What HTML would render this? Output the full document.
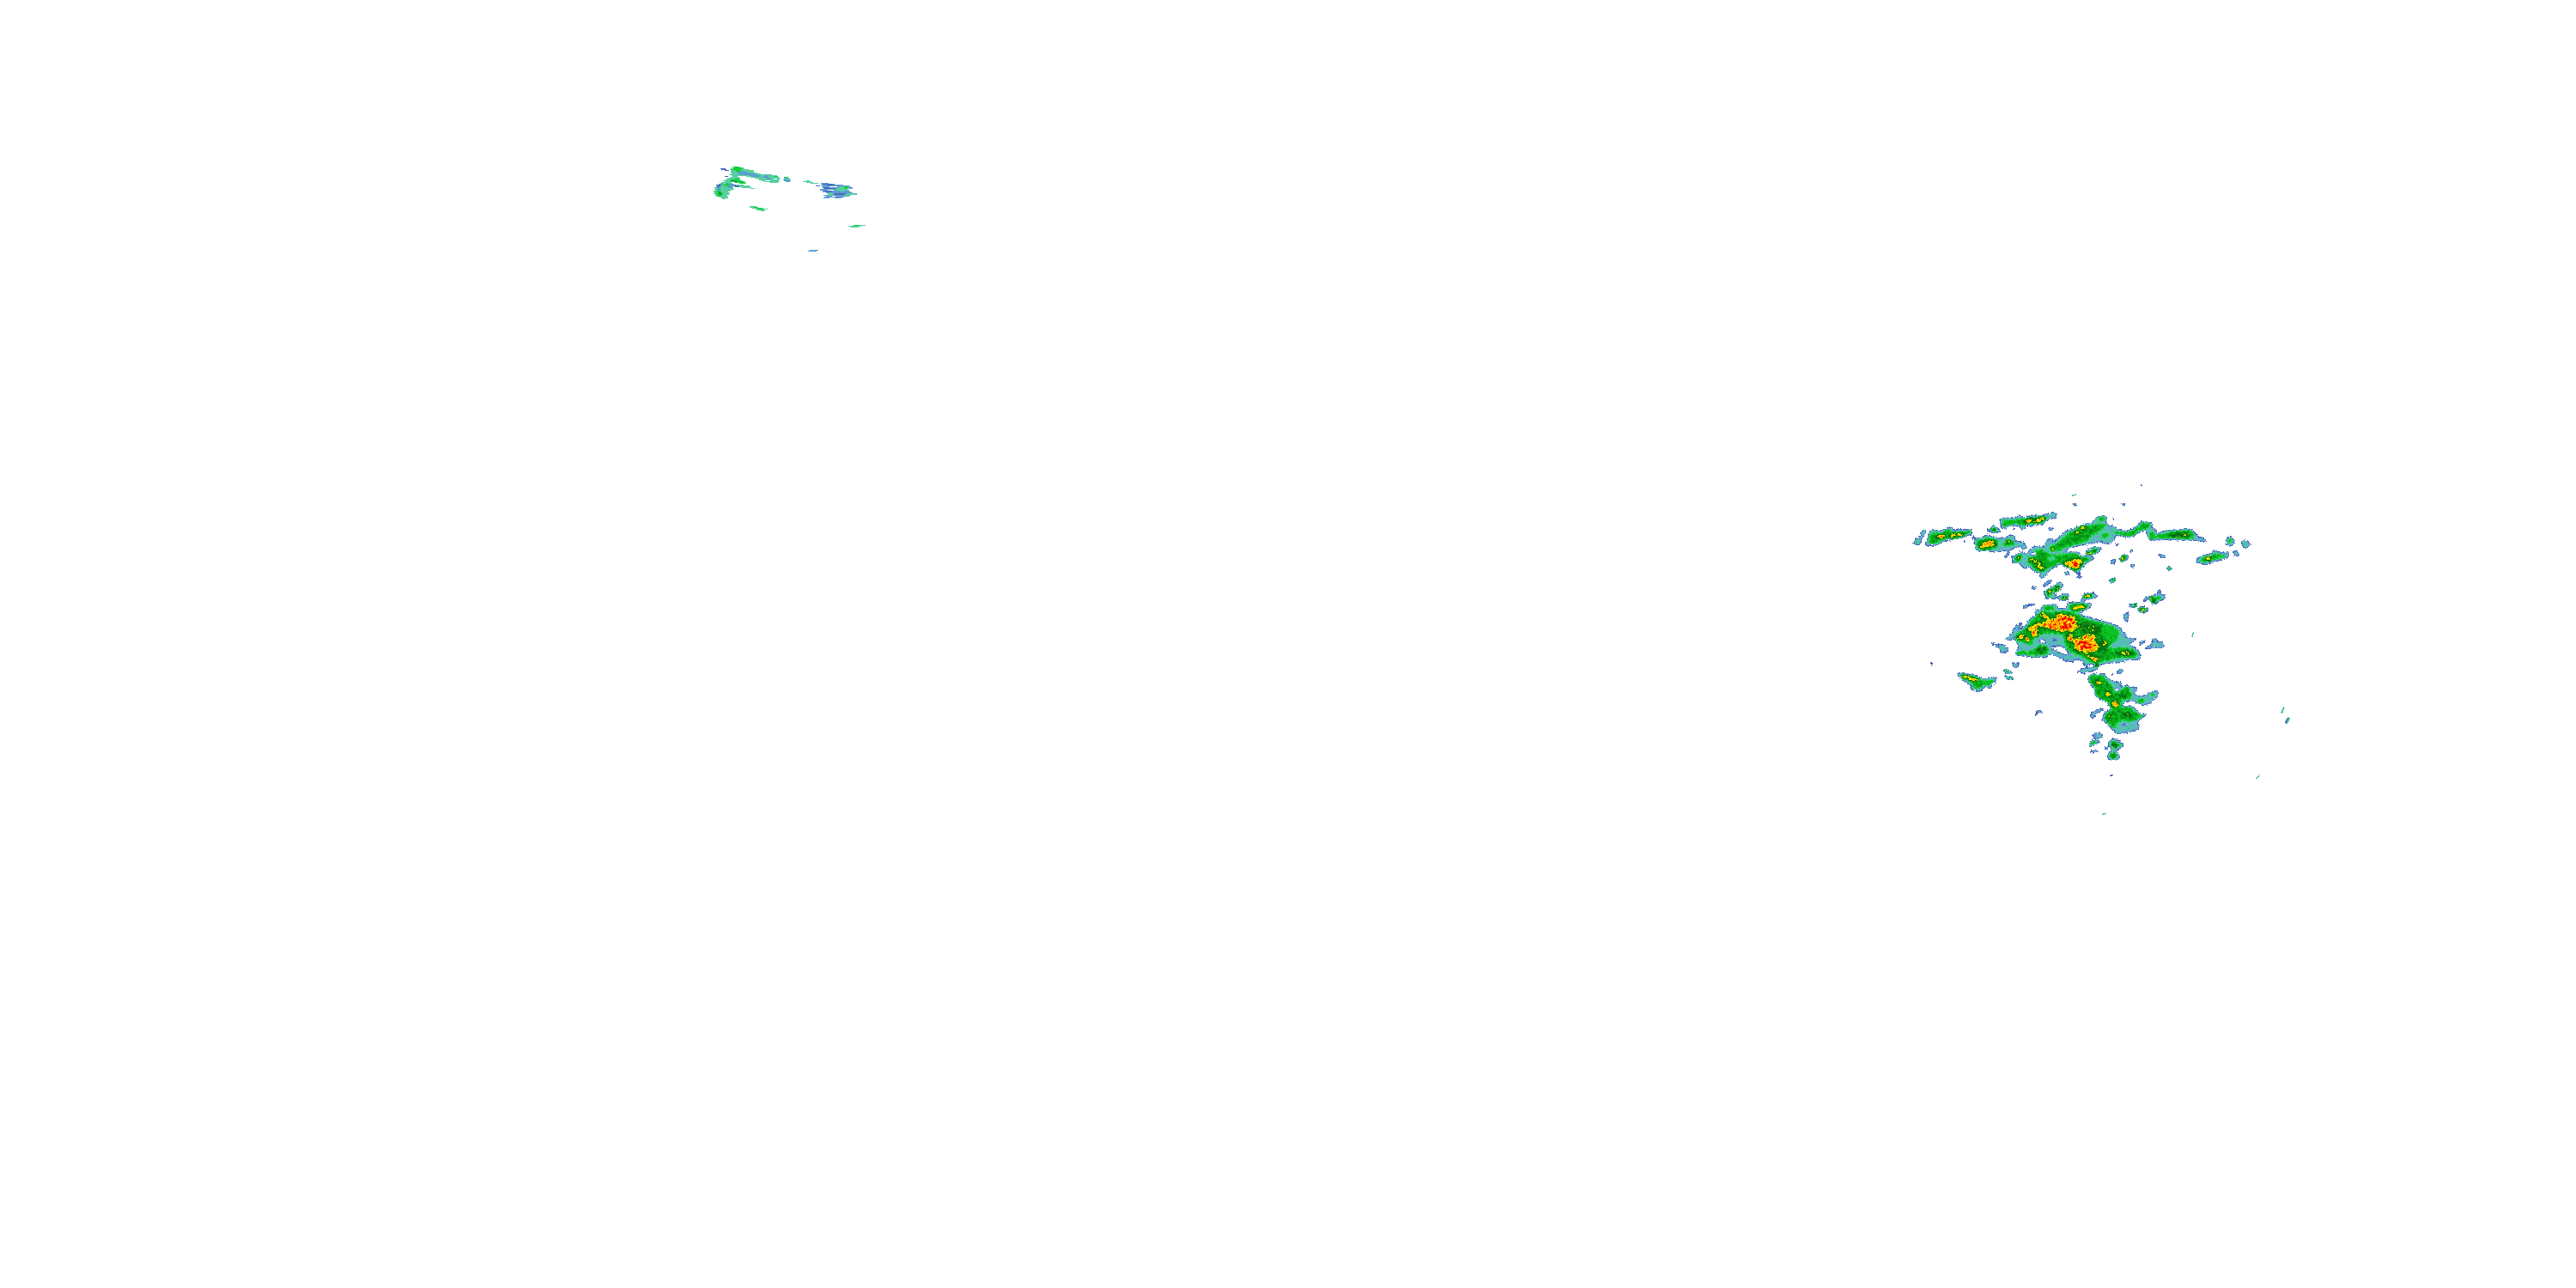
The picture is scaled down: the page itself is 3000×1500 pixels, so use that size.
<!DOCTYPE html>
<html lang="en">
<head>
<meta charset="utf-8">
<style>
html,body{margin:0;padding:0;background:#fff;width:3000px;height:1500px;overflow:hidden}
svg{display:block;position:absolute;left:0;top:0}
</style>
</head>
<body>
<svg width="3000" height="1500" viewBox="0 0 3000 1500">
<defs>
<filter id="radar" filterUnits="userSpaceOnUse" x="2160" y="520" width="580" height="500" color-interpolation-filters="sRGB">
  <feGaussianBlur in="SourceGraphic" stdDeviation="1.1" result="b0"/>
  <feTurbulence type="fractalNoise" baseFrequency="0.45" numOctaves="2" seed="21" result="dn"/>
  <feDisplacementMap in="b0" in2="dn" scale="3.5" xChannelSelector="R" yChannelSelector="G" result="b"/>
  <feTurbulence type="fractalNoise" baseFrequency="0.3" numOctaves="2" seed="7" result="n0"/>
  <feColorMatrix in="n0" type="matrix" values="1 0 0 0 0  1 0 0 0 0  1 0 0 0 0  0 0 0 0 1" result="n"/>
  <feComposite in="b" in2="n" operator="arithmetic" k1="0.7" k2="0.65" k3="0.04" k4="-0.02" result="m"/>
  <feComponentTransfer in="m">
    <feFuncR type="discrete" tableValues="1.000 1.000 1.000 1.000 1.000 1.000 1.000 1.000 1.000 1.000 1.000 1.000 1.000 1.000 1.000 1.000 1.000 1.000 1.000 0.259 0.259 0.259 0.259 0.259 0.259 0.259 0.259 0.259 0.259 0.333 0.333 0.333 0.333 0.333 0.333 0.400 0.400 0.400 0.400 0.400 0.400 0.400 0.400 0.400 0.361 0.361 0.361 0.361 0.361 0.361 0.282 0.282 0.282 0.282 0.282 0.282 0.282 0.282 0.282 0.282 0.282 0.282 0.133 0.133 0.133 0.133 0.133 0.133 0.047 0.047 0.047 0.047 0.047 0.047 0.047 0.047 0.047 0.047 0.047 0.047 0.047 0.047 0.047 0.047 0.039 0.039 0.039 0.039 0.039 0.039 0.039 0.039 0.039 0.039 0.039 0.039 0.031 0.031 0.031 0.031 0.031 0.031 0.031 0.031 0.031 0.031 0.031 0.031 0.024 0.024 0.024 0.024 0.024 0.024 0.024 0.024 0.024 0.024 0.024 0.024 0.020 0.020 0.020 0.020 0.020 0.020 0.020 0.020 0.020 0.020 0.020 0.020 0.020 0.020 0.020 0.020 0.020 0.020 0.784 0.784 0.784 0.784 0.784 0.784 0.784 0.784 1.000 1.000 1.000 1.000 1.000 1.000 1.000 1.000 1.000 1.000 1.000 1.000 1.000 1.000 1.000 1.000 1.000 1.000 1.000 1.000 1.000 1.000 1.000 1.000 1.000 1.000 1.000 1.000 1.000 1.000 1.000 1.000 1.000 1.000 1.000 1.000 1.000 1.000 1.000 1.000 1.000 1.000 1.000 1.000 0.941 0.941 0.941 0.941 0.941 0.941 0.941 0.941 0.941 0.941"/>
    <feFuncG type="discrete" tableValues="1.000 1.000 1.000 1.000 1.000 1.000 1.000 1.000 1.000 1.000 1.000 1.000 1.000 1.000 1.000 1.000 1.000 1.000 1.000 0.376 0.376 0.376 0.376 0.376 0.376 0.376 0.376 0.376 0.376 0.522 0.522 0.522 0.522 0.522 0.522 0.651 0.651 0.651 0.651 0.651 0.651 0.651 0.651 0.651 0.737 0.737 0.737 0.737 0.737 0.737 0.800 0.800 0.800 0.800 0.800 0.800 0.800 0.800 0.800 0.800 0.800 0.800 0.800 0.800 0.800 0.800 0.800 0.800 0.769 0.769 0.769 0.769 0.769 0.769 0.769 0.769 0.769 0.769 0.769 0.769 0.769 0.769 0.769 0.769 0.690 0.690 0.690 0.690 0.690 0.690 0.690 0.690 0.690 0.690 0.690 0.690 0.596 0.596 0.596 0.596 0.596 0.596 0.596 0.596 0.596 0.596 0.596 0.596 0.502 0.502 0.502 0.502 0.502 0.502 0.502 0.502 0.502 0.502 0.502 0.502 0.424 0.424 0.424 0.424 0.424 0.424 0.424 0.424 0.424 0.424 0.424 0.424 0.424 0.424 0.424 0.424 0.424 0.424 0.784 0.784 0.784 0.784 0.784 0.784 0.784 0.784 0.886 0.886 0.886 0.886 0.886 0.886 0.886 0.886 0.886 0.886 0.886 0.886 0.886 0.886 0.886 0.886 0.886 0.886 0.753 0.753 0.753 0.753 0.753 0.753 0.753 0.753 0.596 0.596 0.596 0.596 0.596 0.596 0.596 0.596 0.596 0.596 0.596 0.596 0.314 0.314 0.314 0.314 0.314 0.314 0.031 0.031 0.031 0.031 0.031 0.031 0.031 0.031 0.031 0.031"/>
    <feFuncB type="discrete" tableValues="1.000 1.000 1.000 1.000 1.000 1.000 1.000 1.000 1.000 1.000 1.000 1.000 1.000 1.000 1.000 1.000 1.000 1.000 1.000 0.698 0.698 0.698 0.698 0.698 0.698 0.698 0.698 0.698 0.698 0.776 0.776 0.776 0.776 0.776 0.776 0.839 0.839 0.839 0.839 0.839 0.839 0.839 0.839 0.839 0.753 0.753 0.753 0.753 0.753 0.753 0.588 0.588 0.588 0.588 0.588 0.588 0.588 0.588 0.588 0.588 0.588 0.588 0.314 0.314 0.314 0.314 0.314 0.314 0.125 0.125 0.125 0.125 0.125 0.125 0.125 0.125 0.125 0.125 0.125 0.125 0.125 0.125 0.125 0.125 0.110 0.110 0.110 0.110 0.110 0.110 0.110 0.110 0.110 0.110 0.110 0.110 0.094 0.094 0.094 0.094 0.094 0.094 0.094 0.094 0.094 0.094 0.094 0.094 0.078 0.078 0.078 0.078 0.078 0.078 0.078 0.078 0.078 0.078 0.078 0.078 0.063 0.063 0.063 0.063 0.063 0.063 0.063 0.063 0.063 0.063 0.063 0.063 0.063 0.063 0.063 0.063 0.063 0.063 0.000 0.000 0.000 0.000 0.000 0.000 0.000 0.000 0.000 0.000 0.000 0.000 0.000 0.000 0.000 0.000 0.000 0.000 0.000 0.000 0.000 0.000 0.000 0.000 0.000 0.000 0.000 0.000 0.000 0.000 0.000 0.000 0.000 0.000 0.000 0.000 0.000 0.000 0.000 0.000 0.000 0.000 0.000 0.000 0.000 0.000 0.000 0.000 0.000 0.000 0.000 0.000 0.000 0.000 0.000 0.000 0.000 0.000 0.000 0.000 0.000 0.000"/>
  </feComponentTransfer>
</filter>
<filter id="ft" filterUnits="userSpaceOnUse" x="800" y="170" width="240" height="140" color-interpolation-filters="sRGB">
  <feTurbulence type="fractalNoise" baseFrequency="0.012 0.7" numOctaves="2" seed="5" result="n0"/>
  <feColorMatrix in="n0" type="matrix" values="1 0 0 0 0  0 0 0 0 0.5  0 0 0 0 0.5  0 0 0 0 1" result="n"/>
  <feDisplacementMap in="SourceGraphic" in2="n" scale="8" xChannelSelector="R" yChannelSelector="G"/>
</filter>
</defs>
<rect width="3000" height="1500" fill="#fff"/>
<clipPath id="cp"><rect x="2170" y="530" width="560" height="480"/></clipPath>
<g clip-path="url(#cp)">
<g filter="url(#radar)">
<rect x="2150" y="510" width="600" height="520" fill="#000"/>
<g fill="#242424" stroke="#242424" stroke-width="1.0" stroke-linejoin="round">
<polygon points="2343.1,616.5 2347.5,615.4 2347.2,617.2 2343.8,617.8"/>
<polygon points="2353.1,615.0 2358.8,613.5 2358.5,616.5 2353.8,617.0"/>
<polygon points="2334.4,649.4 2336.9,645.0 2338.1,641.9 2340.0,642.5 2339.4,646.2 2336.2,650.0"/>
<polygon points="2480.6,658.1 2483.1,656.9 2486.2,659.4 2484.4,660.9 2481.5,660.2"/>
<polygon points="2513.1,646.0 2516.9,645.2 2522.2,647.5 2521.9,649.8 2517.5,649.0 2514.4,647.8"/>
<polygon points="2480.0,640.6 2482.5,640.0 2483.8,642.5 2481.5,643.2"/>
<polygon points="2404.4,666.2 2409.4,665.6 2410.0,669.0 2405.6,670.0"/>
<polygon points="2418.8,671.2 2424.4,670.6 2425.0,672.8 2420.0,673.2"/>
<polygon points="2378.1,680.6 2383.1,679.4 2385.0,676.2 2390.0,675.6 2388.8,678.1 2385.0,680.0 2382.5,682.5 2378.8,682.8"/>
<polygon points="2366.2,682.8 2368.8,681.9 2371.2,685.6 2369.4,686.9 2366.9,685.0"/>
<polygon points="2475.0,715.0 2478.8,712.5 2478.1,717.5 2478.8,721.2 2476.2,725.0 2474.4,721.2 2473.1,718.8"/>
<polygon points="2355.0,706.9 2358.1,704.4 2363.8,704.0 2370.6,703.1 2370.0,704.8 2364.4,705.6 2361.2,706.2 2360.0,709.4 2357.5,707.5"/>
<polygon points="2336.2,743.8 2340.0,740.0 2342.5,737.5 2346.2,731.2 2347.5,728.1 2351.2,726.9 2353.8,724.4 2355.0,726.2 2351.2,731.2 2348.8,736.2 2346.2,741.2 2342.5,745.0 2338.8,746.2"/>
<polygon points="2317.2,748.1 2320.0,747.5 2323.8,750.0 2327.5,751.2 2333.1,750.0 2335.0,753.8 2339.4,754.4 2338.8,757.5 2335.0,760.6 2331.2,760.0 2328.8,756.2 2326.2,753.1 2321.2,750.6"/>
<polygon points="2248.1,771.2 2249.8,771.0 2251.9,774.4 2250.2,774.8"/>
<polygon points="2342.5,772.2 2351.9,772.2 2350.0,776.9 2345.6,777.5"/>
<polygon points="2370.6,827.8 2376.9,827.2 2378.1,829.4 2372.5,830.0"/>
<polygon points="2369.4,831.2 2373.8,831.5 2373.5,832.5 2369.8,832.5"/>
<polygon points="2422.5,780.0 2427.5,778.1 2435.0,777.5 2441.9,775.6 2442.5,780.0 2435.0,781.9 2428.8,783.1 2425.0,785.0 2422.5,783.1"/>
<polygon points="2418.1,782.2 2421.2,781.9 2421.0,783.8 2418.5,783.8"/>
<polygon points="2465.0,782.5 2467.5,780.0 2471.9,779.0 2472.5,781.2 2470.0,784.4 2465.6,784.8"/>
<polygon points="2457.5,786.2 2460.6,783.8 2461.5,784.8 2458.5,787.0"/>
<polygon points="2490.6,750.0 2493.8,746.9 2499.4,745.0 2497.5,748.1 2493.1,750.6"/>
<polygon points="2498.1,755.0 2502.5,751.9 2506.2,750.0 2506.9,743.8 2509.4,742.5 2511.2,746.2 2515.0,747.2 2519.8,748.1 2520.0,753.8 2515.0,754.8 2508.8,753.8 2503.8,755.0 2500.0,756.0"/>
<polygon points="2434.4,833.8 2436.9,828.8 2441.2,827.5 2447.5,825.0 2450.6,825.6 2445.0,829.4 2441.2,830.6 2438.8,835.0 2435.6,836.9"/>
<polygon points="2436.2,859.4 2441.2,856.9 2445.0,856.2 2448.8,858.8 2446.2,860.6 2440.0,860.0"/>
<polygon points="2610.0,631.2 2612.5,628.5 2617.5,629.4 2620.6,635.0 2617.5,637.5 2613.8,638.5 2611.2,635.6"/>
<polygon points="2600.0,642.2 2605.0,641.9 2608.1,646.2 2605.6,648.1 2601.9,646.2"/>
<polygon points="2470.6,586.5 2473.8,586.0 2475.6,587.8 2473.1,588.8 2471.0,588.1"/>
<polygon points="2492.5,564.4 2493.5,564.1 2495.0,566.5 2494.0,566.9"/>
<polygon points="2513.1,646.0 2516.9,645.6 2521.9,648.1 2521.2,649.8 2516.9,649.0 2514.0,647.5"/>
<polygon points="2480.6,640.6 2482.5,640.0 2483.8,643.1 2481.9,643.8"/>
<polygon points="2457.5,654.0 2459.8,654.4 2460.6,656.5 2458.5,656.9"/>
<polygon points="2481.2,658.1 2483.8,657.2 2485.8,660.0 2482.8,660.8"/>
<polygon points="2436.2,856.2 2441.2,853.5 2445.0,853.1 2448.8,855.6 2448.1,857.8 2442.5,856.9"/>
<polygon points="2433.8,875.6 2438.1,874.0 2443.1,874.8 2442.2,876.2 2435.0,876.9"/>
<polygon points="2450.0,871.0 2455.0,870.0 2455.6,871.5 2451.2,872.8"/>
<polygon points="2456.9,903.1 2460.0,901.9 2461.9,902.5 2458.1,904.0"/>
<polygon points="2414.0,586.9 2416.2,586.0 2418.8,587.0 2416.9,588.8 2414.5,588.2"/>
<polygon points="2459.4,603.5 2461.5,603.1 2461.9,604.8 2459.8,605.0"/>
<polygon points="2286.5,630.6 2288.2,630.0 2288.8,631.9 2287.0,632.5"/>
<polygon points="2228.1,633.1 2231.9,627.5 2235.6,626.2 2236.9,621.2 2240.0,617.2 2243.1,617.2 2242.8,621.2 2239.4,625.6 2237.8,628.1 2236.2,634.0 2232.5,634.4"/>
<polygon points="2242.2,635.0 2244.4,629.4 2245.6,622.5 2248.8,617.5 2255.0,617.2 2259.4,619.0 2264.4,616.2 2270.0,614.0 2273.8,614.4 2274.4,617.2 2280.0,617.0 2287.5,617.0 2293.1,616.0 2296.9,616.5 2296.2,621.9 2291.2,624.8 2285.0,625.6 2277.5,627.5 2270.0,628.8 2263.8,631.0 2258.1,633.8 2252.5,635.6 2247.5,634.8 2244.4,635.6"/>
<polygon points="2313.5,618.1 2317.5,615.0 2322.5,612.2 2325.6,613.8 2328.8,617.5 2330.2,619.8 2325.0,620.6 2320.0,619.8 2316.2,618.8"/>
<polygon points="2328.8,605.6 2330.6,604.4 2337.5,603.1 2347.5,603.1 2350.0,601.2 2355.0,601.2 2357.5,603.1 2366.2,600.0 2376.2,600.6 2385.0,598.8 2390.0,598.1 2391.9,596.2 2394.8,596.9 2395.0,603.8 2390.6,603.1 2386.2,605.0 2382.5,608.1 2378.1,611.2 2371.2,610.6 2365.0,613.1 2360.0,611.9 2355.0,614.4 2350.0,613.1 2346.2,611.9 2340.0,613.1 2335.0,616.2 2331.2,615.6 2330.6,611.2 2329.4,608.1"/>
<polygon points="2384.4,615.6 2388.1,614.0 2391.9,614.4 2390.6,616.9 2386.2,617.5"/>
<polygon points="2428.8,643.8 2432.5,640.0 2438.8,636.9 2445.0,637.5 2446.9,640.6 2443.8,642.5 2438.8,645.6 2432.5,646.2"/>
<polygon points="2469.0,651.2 2471.2,647.5 2475.0,645.6 2478.8,648.1 2476.9,651.9 2472.5,653.8 2470.0,653.5"/>
<polygon points="2457.5,653.8 2461.2,651.9 2465.0,653.1 2462.5,656.5 2458.8,656.5"/>
<polygon points="2523.8,661.0 2526.9,660.0 2529.8,661.9 2527.5,663.8 2524.4,663.2"/>
<polygon points="2457.2,675.6 2460.0,673.1 2463.8,675.0 2461.2,678.1 2458.1,677.9"/>
<polygon points="2379.4,690.0 2385.0,686.2 2391.2,682.5 2397.5,678.1 2401.9,679.4 2403.5,681.9 2400.0,684.4 2397.5,687.5 2393.8,688.8 2391.2,691.2 2395.0,693.1 2393.8,697.5 2387.5,696.9 2382.5,697.5 2381.9,693.1"/>
<polygon points="2395.6,696.2 2400.0,693.1 2403.8,691.2 2408.1,691.9 2410.6,694.0 2408.1,697.5 2402.5,698.5 2397.5,698.1"/>
<polygon points="2424.4,696.9 2428.1,691.9 2433.8,690.6 2438.8,690.6 2440.0,693.1 2445.0,694.4 2440.0,695.6 2438.8,697.5 2430.0,697.5 2427.5,700.0 2423.8,705.0 2421.2,703.8 2423.1,700.0"/>
<polygon points="2503.1,697.5 2505.0,693.8 2512.5,692.5 2513.8,686.9 2515.6,686.2 2516.2,690.0 2515.0,692.2 2521.2,692.5 2522.2,695.0 2520.0,698.1 2515.0,700.0 2510.0,703.1 2506.2,703.1 2506.9,700.0"/>
<polygon points="2496.2,700.0 2498.1,695.0 2500.6,694.4 2501.0,697.5 2498.1,701.2"/>
<polygon points="2478.1,706.2 2481.2,703.8 2488.8,702.5 2489.4,705.0 2485.0,706.2 2480.0,707.5"/>
<polygon points="2489.4,710.0 2492.5,706.9 2498.8,707.2 2501.9,708.8 2501.2,712.5 2495.0,712.8 2490.6,711.9"/>
<polygon points="2279.4,785.0 2281.9,783.1 2287.5,784.0 2295.0,786.2 2300.0,785.6 2305.0,788.8 2310.0,790.6 2317.5,789.8 2320.0,788.1 2323.8,788.8 2325.2,790.6 2323.1,795.0 2320.0,798.1 2317.5,802.5 2313.8,799.4 2310.0,800.0 2308.8,804.4 2305.0,805.2 2300.0,803.8 2297.5,804.4 2295.6,802.5 2296.2,798.8 2291.2,795.6 2286.2,791.9 2282.5,788.1"/>
<polygon points="2333.1,781.0 2336.2,779.4 2340.0,781.9 2343.5,783.5 2337.5,784.0"/>
<polygon points="2335.0,788.5 2340.0,787.5 2345.6,790.2 2340.6,791.5"/>
<polygon points="2591.9,630.0 2593.8,626.2 2597.5,625.0 2601.2,627.5 2601.9,633.8 2598.8,635.6 2593.8,634.8"/>
<polygon points="2557.8,656.2 2558.8,650.6 2565.0,646.9 2575.0,645.0 2577.5,641.2 2580.0,641.0 2582.5,643.1 2587.5,643.5 2592.5,643.8 2593.8,641.9 2596.2,642.2 2595.6,647.5 2590.0,651.2 2582.5,653.1 2576.2,655.0 2568.8,657.5 2562.5,655.6"/>
<polygon points="2469.4,650.6 2471.9,647.5 2475.0,646.2 2478.8,648.5 2475.6,651.9 2471.2,653.4"/>
<polygon points="2461.9,653.1 2463.8,652.2 2464.5,653.8 2462.5,654.6"/>
<polygon points="2524.4,661.2 2526.9,660.2 2528.1,662.5 2525.6,663.8"/>
<polygon points="2457.5,675.6 2460.0,673.5 2463.5,675.0 2461.9,677.5 2458.5,678.1"/>
<polygon points="2463.1,632.5 2465.6,632.2 2468.1,635.0 2466.0,635.8"/>
<polygon points="2503.8,698.8 2505.6,694.4 2512.5,692.8 2520.0,692.2 2521.9,695.0 2517.5,698.1 2512.5,700.0 2508.8,702.5 2505.6,701.9"/>
<polygon points="2513.5,686.9 2515.2,686.2 2515.8,689.8 2514.0,690.0"/>
<polygon points="2496.9,697.5 2498.8,694.8 2500.6,695.6 2499.8,698.5"/>
<polygon points="2435.0,863.5 2442.5,862.9 2445.0,864.4 2438.8,866.0 2437.5,868.5 2432.2,868.8 2435.0,866.9"/>
<polygon points="2455.6,865.0 2458.1,861.2 2462.5,860.0 2466.2,862.5 2470.0,864.4 2473.1,866.2 2471.9,870.0 2467.5,871.9 2463.8,874.4 2465.6,876.2 2467.5,878.8 2468.8,880.6 2467.5,884.4 2461.2,885.0 2456.2,884.0 2453.8,881.2 2454.4,878.8 2457.5,876.2 2460.0,873.8 2456.9,870.0"/>
<polygon points="2296.2,628.1 2298.8,624.4 2300.2,625.0 2297.5,629.0"/>
<polygon points="2299.4,628.1 2302.5,626.5 2310.0,626.0 2310.6,623.5 2317.5,623.1 2317.8,626.9 2326.2,626.2 2335.0,626.5 2340.0,623.8 2346.2,623.8 2346.9,626.5 2344.4,629.4 2348.8,630.0 2356.2,631.2 2358.8,635.0 2360.6,636.2 2359.4,639.4 2355.6,640.0 2352.5,636.2 2347.5,637.5 2340.0,641.2 2332.5,641.0 2327.5,642.5 2320.0,642.2 2312.5,641.0 2305.0,642.2 2301.9,640.0 2300.2,635.0"/>
<polygon points="2343.1,656.2 2344.4,651.2 2342.2,646.9 2346.9,647.5 2351.9,642.5 2355.0,642.5 2360.0,645.0 2363.8,641.2 2366.9,636.9 2372.5,636.2 2377.5,637.8 2381.9,635.0 2383.1,629.4 2390.0,626.2 2391.0,631.2 2393.8,630.0 2397.5,625.0 2403.8,620.0 2407.5,617.5 2415.0,616.2 2421.2,612.2 2430.0,610.6 2437.5,610.0 2436.9,606.9 2441.2,603.1 2448.8,600.6 2453.8,601.9 2453.1,605.0 2450.6,608.8 2455.0,609.4 2455.0,613.1 2460.0,612.8 2466.2,615.6 2472.5,618.8 2478.8,617.5 2485.0,616.2 2490.0,611.9 2494.4,607.5 2497.5,607.2 2505.6,609.4 2506.5,613.8 2508.1,616.9 2511.2,621.2 2518.8,620.0 2525.0,617.5 2532.0,616.9 2532.0,628.8 2525.0,627.5 2515.0,628.1 2510.0,626.5 2505.0,629.4 2501.2,625.0 2498.8,617.5 2496.2,615.6 2491.9,617.5 2485.0,621.2 2477.5,621.9 2467.5,622.5 2463.8,623.8 2461.2,630.0 2457.5,633.1 2451.2,631.2 2445.0,630.0 2438.8,632.5 2431.2,633.8 2422.5,635.0 2415.0,636.9 2408.8,638.8 2405.0,641.9 2410.0,643.1 2422.5,643.1 2421.2,646.2 2428.8,648.1 2433.8,647.5 2438.8,649.4 2435.0,653.8 2428.8,656.2 2425.0,661.2 2421.2,665.0 2422.5,669.4 2418.8,667.5 2415.0,663.8 2408.8,661.2 2402.5,657.5 2397.5,656.2 2396.2,660.0 2390.0,661.9 2385.0,666.2 2381.2,672.5 2376.2,673.5 2375.0,669.4 2377.5,666.2 2371.2,666.2 2366.2,663.1 2363.1,660.0 2358.1,662.5 2353.8,658.1 2350.0,655.0 2346.2,655.6"/>
<polygon points="2369.4,713.8 2370.6,711.2 2377.5,709.4 2378.1,705.6 2385.0,704.4 2391.2,703.8 2396.9,705.6 2395.0,707.5 2400.0,709.4 2405.0,707.5 2408.8,705.6 2407.5,702.5 2412.5,701.2 2420.0,702.5 2427.5,703.1 2435.0,702.5 2435.6,705.6 2432.5,708.8 2425.0,710.6 2423.1,713.8 2426.2,717.5 2433.8,718.8 2441.2,721.2 2450.0,723.8 2458.8,726.2 2466.2,728.8 2470.6,732.5 2472.5,737.5 2477.5,737.5 2473.8,741.2 2478.8,743.1 2485.0,743.8 2488.8,743.1 2483.8,747.5 2478.8,750.0 2485.0,753.8 2490.0,757.5 2492.5,762.5 2491.9,767.5 2486.2,768.1 2480.0,767.5 2475.0,770.0 2470.0,771.9 2462.5,771.2 2455.0,772.5 2447.5,773.8 2442.5,776.2 2438.8,773.1 2435.0,773.8 2430.0,775.6 2425.0,773.1 2426.2,770.0 2421.2,768.1 2415.0,770.0 2408.8,770.0 2403.8,769.4 2400.0,766.2 2395.0,763.8 2390.0,762.5 2385.0,762.5 2383.8,765.6 2377.5,765.0 2371.2,765.6 2365.0,765.0 2358.8,763.1 2352.5,763.8 2347.5,762.5 2348.1,758.8 2351.2,755.0 2350.0,750.0 2346.9,746.2 2346.2,741.2 2348.8,736.2 2352.5,732.5 2358.8,728.8 2361.2,725.0 2365.0,718.8 2367.5,718.1 2368.1,721.2 2372.5,720.0 2373.8,716.2"/>
<polygon points="2432.5,793.8 2433.8,787.5 2436.9,785.0 2442.5,785.6 2447.5,785.0 2452.5,783.5 2451.2,786.2 2455.0,790.0 2460.0,793.1 2465.0,795.0 2469.4,793.8 2470.6,796.2 2467.5,798.8 2473.8,800.0 2477.5,796.9 2480.6,801.2 2485.0,800.6 2489.4,801.9 2487.5,804.4 2484.4,806.2 2486.9,808.8 2491.2,811.2 2497.5,810.0 2502.5,807.5 2507.5,805.6 2511.9,804.4 2513.8,807.5 2511.2,812.5 2507.5,815.0 2505.0,818.8 2498.8,820.6 2493.8,821.2 2490.0,818.8 2486.2,816.9 2482.5,815.6 2477.5,816.9 2472.5,818.1 2471.9,821.9 2470.0,825.0 2475.0,823.1 2480.0,821.9 2485.0,823.8 2488.8,827.5 2491.2,831.2 2496.2,831.9 2500.0,831.2 2497.5,834.4 2493.8,836.2 2490.0,838.8 2489.4,842.5 2491.2,846.2 2488.8,850.0 2483.8,851.9 2478.8,852.8 2473.8,853.5 2468.2,854.6 2464.4,853.8 2459.0,848.4 2455.1,843.8 2453.1,840.6 2450.6,839.8 2446.9,838.8 2450.0,835.0 2450.0,831.2 2453.8,828.8 2458.8,825.6 2456.9,823.1 2455.0,818.8 2451.2,815.0 2445.0,813.1 2440.0,810.0 2439.4,806.2 2441.2,802.5 2438.8,798.8 2435.0,796.2"/>
<polygon points="2447.5,610.0 2462.5,615.0 2470.0,618.1 2478.8,618.8 2486.2,615.0 2490.0,611.2 2494.4,607.5 2500.0,607.5 2505.6,609.4 2506.9,613.1 2503.8,615.0 2507.5,618.8 2511.2,617.5 2511.9,621.9 2520.0,618.8 2530.0,617.8 2538.8,616.9 2545.0,615.6 2551.2,616.2 2556.2,620.0 2558.8,624.4 2565.0,626.9 2568.8,628.1 2568.8,631.5 2562.5,630.0 2556.2,629.0 2548.8,630.0 2540.0,628.5 2531.2,628.8 2522.5,628.1 2515.0,628.5 2505.0,629.4 2501.2,626.2 2500.6,621.2 2499.4,617.5 2494.4,618.8 2487.5,621.2 2483.8,625.6 2478.8,625.6 2471.2,624.4 2463.8,622.5 2462.5,628.8 2457.5,633.1 2447.5,632.5"/>
</g>
<g fill="#3e3e3e">
<polygon points="2343.1,616.5 2347.5,615.4 2347.2,617.2 2343.8,617.8"/>
<polygon points="2353.1,615.0 2358.8,613.5 2358.5,616.5 2353.8,617.0"/>
<polygon points="2334.4,649.4 2336.9,645.0 2338.1,641.9 2340.0,642.5 2339.4,646.2 2336.2,650.0"/>
<polygon points="2480.6,658.1 2483.1,656.9 2486.2,659.4 2484.4,660.9 2481.5,660.2"/>
<polygon points="2513.1,646.0 2516.9,645.2 2522.2,647.5 2521.9,649.8 2517.5,649.0 2514.4,647.8"/>
<polygon points="2480.0,640.6 2482.5,640.0 2483.8,642.5 2481.5,643.2"/>
<polygon points="2404.4,666.2 2409.4,665.6 2410.0,669.0 2405.6,670.0"/>
<polygon points="2418.8,671.2 2424.4,670.6 2425.0,672.8 2420.0,673.2"/>
<polygon points="2378.1,680.6 2383.1,679.4 2385.0,676.2 2390.0,675.6 2388.8,678.1 2385.0,680.0 2382.5,682.5 2378.8,682.8"/>
<polygon points="2366.2,682.8 2368.8,681.9 2371.2,685.6 2369.4,686.9 2366.9,685.0"/>
<polygon points="2475.0,715.0 2478.8,712.5 2478.1,717.5 2478.8,721.2 2476.2,725.0 2474.4,721.2 2473.1,718.8"/>
<polygon points="2355.0,706.9 2358.1,704.4 2363.8,704.0 2370.6,703.1 2370.0,704.8 2364.4,705.6 2361.2,706.2 2360.0,709.4 2357.5,707.5"/>
<polygon points="2336.2,743.8 2340.0,740.0 2342.5,737.5 2346.2,731.2 2347.5,728.1 2351.2,726.9 2353.8,724.4 2355.0,726.2 2351.2,731.2 2348.8,736.2 2346.2,741.2 2342.5,745.0 2338.8,746.2"/>
<polygon points="2317.2,748.1 2320.0,747.5 2323.8,750.0 2327.5,751.2 2333.1,750.0 2335.0,753.8 2339.4,754.4 2338.8,757.5 2335.0,760.6 2331.2,760.0 2328.8,756.2 2326.2,753.1 2321.2,750.6"/>
<polygon points="2248.1,771.2 2249.8,771.0 2251.9,774.4 2250.2,774.8"/>
<polygon points="2342.5,772.2 2351.9,772.2 2350.0,776.9 2345.6,777.5"/>
<polygon points="2370.6,827.8 2376.9,827.2 2378.1,829.4 2372.5,830.0"/>
<polygon points="2369.4,831.2 2373.8,831.5 2373.5,832.5 2369.8,832.5"/>
<polygon points="2422.5,780.0 2427.5,778.1 2435.0,777.5 2441.9,775.6 2442.5,780.0 2435.0,781.9 2428.8,783.1 2425.0,785.0 2422.5,783.1"/>
<polygon points="2418.1,782.2 2421.2,781.9 2421.0,783.8 2418.5,783.8"/>
<polygon points="2465.0,782.5 2467.5,780.0 2471.9,779.0 2472.5,781.2 2470.0,784.4 2465.6,784.8"/>
<polygon points="2457.5,786.2 2460.6,783.8 2461.5,784.8 2458.5,787.0"/>
<polygon points="2490.6,750.0 2493.8,746.9 2499.4,745.0 2497.5,748.1 2493.1,750.6"/>
<polygon points="2498.1,755.0 2502.5,751.9 2506.2,750.0 2506.9,743.8 2509.4,742.5 2511.2,746.2 2515.0,747.2 2519.8,748.1 2520.0,753.8 2515.0,754.8 2508.8,753.8 2503.8,755.0 2500.0,756.0"/>
<polygon points="2434.4,833.8 2436.9,828.8 2441.2,827.5 2447.5,825.0 2450.6,825.6 2445.0,829.4 2441.2,830.6 2438.8,835.0 2435.6,836.9"/>
<polygon points="2436.2,859.4 2441.2,856.9 2445.0,856.2 2448.8,858.8 2446.2,860.6 2440.0,860.0"/>
<polygon points="2610.0,631.2 2612.5,628.5 2617.5,629.4 2620.6,635.0 2617.5,637.5 2613.8,638.5 2611.2,635.6"/>
<polygon points="2600.0,642.2 2605.0,641.9 2608.1,646.2 2605.6,648.1 2601.9,646.2"/>
<polygon points="2470.6,586.5 2473.8,586.0 2475.6,587.8 2473.1,588.8 2471.0,588.1"/>
<polygon points="2492.5,564.4 2493.5,564.1 2495.0,566.5 2494.0,566.9"/>
<polygon points="2513.1,646.0 2516.9,645.6 2521.9,648.1 2521.2,649.8 2516.9,649.0 2514.0,647.5"/>
<polygon points="2480.6,640.6 2482.5,640.0 2483.8,643.1 2481.9,643.8"/>
<polygon points="2457.5,654.0 2459.8,654.4 2460.6,656.5 2458.5,656.9"/>
<polygon points="2481.2,658.1 2483.8,657.2 2485.8,660.0 2482.8,660.8"/>
<polygon points="2436.2,856.2 2441.2,853.5 2445.0,853.1 2448.8,855.6 2448.1,857.8 2442.5,856.9"/>
<polygon points="2433.8,875.6 2438.1,874.0 2443.1,874.8 2442.2,876.2 2435.0,876.9"/>
<polygon points="2450.0,871.0 2455.0,870.0 2455.6,871.5 2451.2,872.8"/>
<polygon points="2456.9,903.1 2460.0,901.9 2461.9,902.5 2458.1,904.0"/>
<polygon points="2414.0,586.9 2416.2,586.0 2418.8,587.0 2416.9,588.8 2414.5,588.2"/>
<polygon points="2459.4,603.5 2461.5,603.1 2461.9,604.8 2459.8,605.0"/>
<polygon points="2286.5,630.6 2288.2,630.0 2288.8,631.9 2287.0,632.5"/>
</g>
<g fill="#3e3e3e">
<polygon points="2228.1,633.1 2231.9,627.5 2235.6,626.2 2236.9,621.2 2240.0,617.2 2243.1,617.2 2242.8,621.2 2239.4,625.6 2237.8,628.1 2236.2,634.0 2232.5,634.4"/>
<polygon points="2242.2,635.0 2244.4,629.4 2245.6,622.5 2248.8,617.5 2255.0,617.2 2259.4,619.0 2264.4,616.2 2270.0,614.0 2273.8,614.4 2274.4,617.2 2280.0,617.0 2287.5,617.0 2293.1,616.0 2296.9,616.5 2296.2,621.9 2291.2,624.8 2285.0,625.6 2277.5,627.5 2270.0,628.8 2263.8,631.0 2258.1,633.8 2252.5,635.6 2247.5,634.8 2244.4,635.6"/>
<polygon points="2313.5,618.1 2317.5,615.0 2322.5,612.2 2325.6,613.8 2328.8,617.5 2330.2,619.8 2325.0,620.6 2320.0,619.8 2316.2,618.8"/>
<polygon points="2328.8,605.6 2330.6,604.4 2337.5,603.1 2347.5,603.1 2350.0,601.2 2355.0,601.2 2357.5,603.1 2366.2,600.0 2376.2,600.6 2385.0,598.8 2390.0,598.1 2391.9,596.2 2394.8,596.9 2395.0,603.8 2390.6,603.1 2386.2,605.0 2382.5,608.1 2378.1,611.2 2371.2,610.6 2365.0,613.1 2360.0,611.9 2355.0,614.4 2350.0,613.1 2346.2,611.9 2340.0,613.1 2335.0,616.2 2331.2,615.6 2330.6,611.2 2329.4,608.1"/>
<polygon points="2384.4,615.6 2388.1,614.0 2391.9,614.4 2390.6,616.9 2386.2,617.5"/>
<polygon points="2428.8,643.8 2432.5,640.0 2438.8,636.9 2445.0,637.5 2446.9,640.6 2443.8,642.5 2438.8,645.6 2432.5,646.2"/>
<polygon points="2469.0,651.2 2471.2,647.5 2475.0,645.6 2478.8,648.1 2476.9,651.9 2472.5,653.8 2470.0,653.5"/>
<polygon points="2457.5,653.8 2461.2,651.9 2465.0,653.1 2462.5,656.5 2458.8,656.5"/>
<polygon points="2523.8,661.0 2526.9,660.0 2529.8,661.9 2527.5,663.8 2524.4,663.2"/>
<polygon points="2457.2,675.6 2460.0,673.1 2463.8,675.0 2461.2,678.1 2458.1,677.9"/>
<polygon points="2379.4,690.0 2385.0,686.2 2391.2,682.5 2397.5,678.1 2401.9,679.4 2403.5,681.9 2400.0,684.4 2397.5,687.5 2393.8,688.8 2391.2,691.2 2395.0,693.1 2393.8,697.5 2387.5,696.9 2382.5,697.5 2381.9,693.1"/>
<polygon points="2395.6,696.2 2400.0,693.1 2403.8,691.2 2408.1,691.9 2410.6,694.0 2408.1,697.5 2402.5,698.5 2397.5,698.1"/>
<polygon points="2424.4,696.9 2428.1,691.9 2433.8,690.6 2438.8,690.6 2440.0,693.1 2445.0,694.4 2440.0,695.6 2438.8,697.5 2430.0,697.5 2427.5,700.0 2423.8,705.0 2421.2,703.8 2423.1,700.0"/>
<polygon points="2503.1,697.5 2505.0,693.8 2512.5,692.5 2513.8,686.9 2515.6,686.2 2516.2,690.0 2515.0,692.2 2521.2,692.5 2522.2,695.0 2520.0,698.1 2515.0,700.0 2510.0,703.1 2506.2,703.1 2506.9,700.0"/>
<polygon points="2496.2,700.0 2498.1,695.0 2500.6,694.4 2501.0,697.5 2498.1,701.2"/>
<polygon points="2478.1,706.2 2481.2,703.8 2488.8,702.5 2489.4,705.0 2485.0,706.2 2480.0,707.5"/>
<polygon points="2489.4,710.0 2492.5,706.9 2498.8,707.2 2501.9,708.8 2501.2,712.5 2495.0,712.8 2490.6,711.9"/>
<polygon points="2279.4,785.0 2281.9,783.1 2287.5,784.0 2295.0,786.2 2300.0,785.6 2305.0,788.8 2310.0,790.6 2317.5,789.8 2320.0,788.1 2323.8,788.8 2325.2,790.6 2323.1,795.0 2320.0,798.1 2317.5,802.5 2313.8,799.4 2310.0,800.0 2308.8,804.4 2305.0,805.2 2300.0,803.8 2297.5,804.4 2295.6,802.5 2296.2,798.8 2291.2,795.6 2286.2,791.9 2282.5,788.1"/>
<polygon points="2333.1,781.0 2336.2,779.4 2340.0,781.9 2343.5,783.5 2337.5,784.0"/>
<polygon points="2335.0,788.5 2340.0,787.5 2345.6,790.2 2340.6,791.5"/>
<polygon points="2591.9,630.0 2593.8,626.2 2597.5,625.0 2601.2,627.5 2601.9,633.8 2598.8,635.6 2593.8,634.8"/>
<polygon points="2557.8,656.2 2558.8,650.6 2565.0,646.9 2575.0,645.0 2577.5,641.2 2580.0,641.0 2582.5,643.1 2587.5,643.5 2592.5,643.8 2593.8,641.9 2596.2,642.2 2595.6,647.5 2590.0,651.2 2582.5,653.1 2576.2,655.0 2568.8,657.5 2562.5,655.6"/>
<polygon points="2469.4,650.6 2471.9,647.5 2475.0,646.2 2478.8,648.5 2475.6,651.9 2471.2,653.4"/>
<polygon points="2461.9,653.1 2463.8,652.2 2464.5,653.8 2462.5,654.6"/>
<polygon points="2524.4,661.2 2526.9,660.2 2528.1,662.5 2525.6,663.8"/>
<polygon points="2457.5,675.6 2460.0,673.5 2463.5,675.0 2461.9,677.5 2458.5,678.1"/>
<polygon points="2463.1,632.5 2465.6,632.2 2468.1,635.0 2466.0,635.8"/>
<polygon points="2503.8,698.8 2505.6,694.4 2512.5,692.8 2520.0,692.2 2521.9,695.0 2517.5,698.1 2512.5,700.0 2508.8,702.5 2505.6,701.9"/>
<polygon points="2513.5,686.9 2515.2,686.2 2515.8,689.8 2514.0,690.0"/>
<polygon points="2496.9,697.5 2498.8,694.8 2500.6,695.6 2499.8,698.5"/>
<polygon points="2435.0,863.5 2442.5,862.9 2445.0,864.4 2438.8,866.0 2437.5,868.5 2432.2,868.8 2435.0,866.9"/>
<polygon points="2455.6,865.0 2458.1,861.2 2462.5,860.0 2466.2,862.5 2470.0,864.4 2473.1,866.2 2471.9,870.0 2467.5,871.9 2463.8,874.4 2465.6,876.2 2467.5,878.8 2468.8,880.6 2467.5,884.4 2461.2,885.0 2456.2,884.0 2453.8,881.2 2454.4,878.8 2457.5,876.2 2460.0,873.8 2456.9,870.0"/>
<polygon points="2296.2,628.1 2298.8,624.4 2300.2,625.0 2297.5,629.0"/>
<polygon points="2299.4,628.1 2302.5,626.5 2310.0,626.0 2310.6,623.5 2317.5,623.1 2317.8,626.9 2326.2,626.2 2335.0,626.5 2340.0,623.8 2346.2,623.8 2346.9,626.5 2344.4,629.4 2348.8,630.0 2356.2,631.2 2358.8,635.0 2360.6,636.2 2359.4,639.4 2355.6,640.0 2352.5,636.2 2347.5,637.5 2340.0,641.2 2332.5,641.0 2327.5,642.5 2320.0,642.2 2312.5,641.0 2305.0,642.2 2301.9,640.0 2300.2,635.0"/>
<polygon points="2343.1,656.2 2344.4,651.2 2342.2,646.9 2346.9,647.5 2351.9,642.5 2355.0,642.5 2360.0,645.0 2363.8,641.2 2366.9,636.9 2372.5,636.2 2377.5,637.8 2381.9,635.0 2383.1,629.4 2390.0,626.2 2391.0,631.2 2393.8,630.0 2397.5,625.0 2403.8,620.0 2407.5,617.5 2415.0,616.2 2421.2,612.2 2430.0,610.6 2437.5,610.0 2436.9,606.9 2441.2,603.1 2448.8,600.6 2453.8,601.9 2453.1,605.0 2450.6,608.8 2455.0,609.4 2455.0,613.1 2460.0,612.8 2466.2,615.6 2472.5,618.8 2478.8,617.5 2485.0,616.2 2490.0,611.9 2494.4,607.5 2497.5,607.2 2505.6,609.4 2506.5,613.8 2508.1,616.9 2511.2,621.2 2518.8,620.0 2525.0,617.5 2532.0,616.9 2532.0,628.8 2525.0,627.5 2515.0,628.1 2510.0,626.5 2505.0,629.4 2501.2,625.0 2498.8,617.5 2496.2,615.6 2491.9,617.5 2485.0,621.2 2477.5,621.9 2467.5,622.5 2463.8,623.8 2461.2,630.0 2457.5,633.1 2451.2,631.2 2445.0,630.0 2438.8,632.5 2431.2,633.8 2422.5,635.0 2415.0,636.9 2408.8,638.8 2405.0,641.9 2410.0,643.1 2422.5,643.1 2421.2,646.2 2428.8,648.1 2433.8,647.5 2438.8,649.4 2435.0,653.8 2428.8,656.2 2425.0,661.2 2421.2,665.0 2422.5,669.4 2418.8,667.5 2415.0,663.8 2408.8,661.2 2402.5,657.5 2397.5,656.2 2396.2,660.0 2390.0,661.9 2385.0,666.2 2381.2,672.5 2376.2,673.5 2375.0,669.4 2377.5,666.2 2371.2,666.2 2366.2,663.1 2363.1,660.0 2358.1,662.5 2353.8,658.1 2350.0,655.0 2346.2,655.6"/>
<polygon points="2369.4,713.8 2370.6,711.2 2377.5,709.4 2378.1,705.6 2385.0,704.4 2391.2,703.8 2396.9,705.6 2395.0,707.5 2400.0,709.4 2405.0,707.5 2408.8,705.6 2407.5,702.5 2412.5,701.2 2420.0,702.5 2427.5,703.1 2435.0,702.5 2435.6,705.6 2432.5,708.8 2425.0,710.6 2423.1,713.8 2426.2,717.5 2433.8,718.8 2441.2,721.2 2450.0,723.8 2458.8,726.2 2466.2,728.8 2470.6,732.5 2472.5,737.5 2477.5,737.5 2473.8,741.2 2478.8,743.1 2485.0,743.8 2488.8,743.1 2483.8,747.5 2478.8,750.0 2485.0,753.8 2490.0,757.5 2492.5,762.5 2491.9,767.5 2486.2,768.1 2480.0,767.5 2475.0,770.0 2470.0,771.9 2462.5,771.2 2455.0,772.5 2447.5,773.8 2442.5,776.2 2438.8,773.1 2435.0,773.8 2430.0,775.6 2425.0,773.1 2426.2,770.0 2421.2,768.1 2415.0,770.0 2408.8,770.0 2403.8,769.4 2400.0,766.2 2395.0,763.8 2390.0,762.5 2385.0,762.5 2383.8,765.6 2377.5,765.0 2371.2,765.6 2365.0,765.0 2358.8,763.1 2352.5,763.8 2347.5,762.5 2348.1,758.8 2351.2,755.0 2350.0,750.0 2346.9,746.2 2346.2,741.2 2348.8,736.2 2352.5,732.5 2358.8,728.8 2361.2,725.0 2365.0,718.8 2367.5,718.1 2368.1,721.2 2372.5,720.0 2373.8,716.2"/>
<polygon points="2432.5,793.8 2433.8,787.5 2436.9,785.0 2442.5,785.6 2447.5,785.0 2452.5,783.5 2451.2,786.2 2455.0,790.0 2460.0,793.1 2465.0,795.0 2469.4,793.8 2470.6,796.2 2467.5,798.8 2473.8,800.0 2477.5,796.9 2480.6,801.2 2485.0,800.6 2489.4,801.9 2487.5,804.4 2484.4,806.2 2486.9,808.8 2491.2,811.2 2497.5,810.0 2502.5,807.5 2507.5,805.6 2511.9,804.4 2513.8,807.5 2511.2,812.5 2507.5,815.0 2505.0,818.8 2498.8,820.6 2493.8,821.2 2490.0,818.8 2486.2,816.9 2482.5,815.6 2477.5,816.9 2472.5,818.1 2471.9,821.9 2470.0,825.0 2475.0,823.1 2480.0,821.9 2485.0,823.8 2488.8,827.5 2491.2,831.2 2496.2,831.9 2500.0,831.2 2497.5,834.4 2493.8,836.2 2490.0,838.8 2489.4,842.5 2491.2,846.2 2488.8,850.0 2483.8,851.9 2478.8,852.8 2473.8,853.5 2468.2,854.6 2464.4,853.8 2459.0,848.4 2455.1,843.8 2453.1,840.6 2450.6,839.8 2446.9,838.8 2450.0,835.0 2450.0,831.2 2453.8,828.8 2458.8,825.6 2456.9,823.1 2455.0,818.8 2451.2,815.0 2445.0,813.1 2440.0,810.0 2439.4,806.2 2441.2,802.5 2438.8,798.8 2435.0,796.2"/>
<polygon points="2447.5,610.0 2462.5,615.0 2470.0,618.1 2478.8,618.8 2486.2,615.0 2490.0,611.2 2494.4,607.5 2500.0,607.5 2505.6,609.4 2506.9,613.1 2503.8,615.0 2507.5,618.8 2511.2,617.5 2511.9,621.9 2520.0,618.8 2530.0,617.8 2538.8,616.9 2545.0,615.6 2551.2,616.2 2556.2,620.0 2558.8,624.4 2565.0,626.9 2568.8,628.1 2568.8,631.5 2562.5,630.0 2556.2,629.0 2548.8,630.0 2540.0,628.5 2531.2,628.8 2522.5,628.1 2515.0,628.5 2505.0,629.4 2501.2,626.2 2500.6,621.2 2499.4,617.5 2494.4,618.8 2487.5,621.2 2483.8,625.6 2478.8,625.6 2471.2,624.4 2463.8,622.5 2462.5,628.8 2457.5,633.1 2447.5,632.5"/>
</g>
<g fill="#6e6e6e">
<polygon points="2232.1,631.7 2232.7,631.9 2234.2,631.7 2234.9,629.1 2233.5,629.6"/>
<polygon points="2245.8,632.7 2247.4,632.2 2252.3,633.0 2257.2,631.5 2262.8,628.7 2269.4,626.4 2277.0,625.1 2284.5,623.1 2290.4,622.4 2293.9,620.4 2294.1,618.7 2293.2,618.5 2287.7,619.5 2280.0,619.5 2272.4,619.8 2271.7,616.7 2270.3,616.6 2265.5,618.5 2259.6,621.8 2254.6,619.7 2250.2,619.9 2248.0,623.4 2246.8,630.1"/>
<polygon points="2319.1,617.0 2320.5,617.4 2325.0,618.1 2325.9,617.9 2324.0,615.8 2322.5,615.0"/>
<polygon points="2331.6,606.7 2331.8,607.4 2333.0,610.6 2333.4,613.4 2334.5,613.6 2339.1,610.7 2346.3,609.3 2350.7,610.7 2354.7,611.7 2359.7,609.3 2364.8,610.5 2370.8,608.1 2377.4,608.6 2381.0,606.1 2384.9,602.8 2390.0,600.6 2385.4,601.3 2376.4,603.1 2366.6,602.5 2357.1,605.9 2354.2,603.7 2350.8,603.7 2348.3,605.6 2337.7,605.6"/>
<polygon points="2390.5,600.6 2392.4,600.9 2392.4,599.3 2391.2,600.5"/>
<polygon points="2432.7,643.4 2433.1,643.6 2438.0,643.2 2442.5,640.4 2443.3,639.9 2439.3,639.5 2434.0,642.1"/>
<polygon points="2471.9,651.2 2472.1,651.2 2475.1,650.0 2475.6,649.0 2474.8,648.5 2473.0,649.4"/>
<polygon points="2383.1,690.5 2384.3,692.1 2384.6,694.7 2387.5,694.4 2391.9,694.8 2392.0,694.4 2386.8,691.8 2392.5,686.6 2396.0,685.4 2398.3,682.6 2399.9,681.4 2397.9,680.8 2392.6,684.6 2386.3,688.3"/>
<polygon points="2400.5,695.8 2402.4,696.0 2406.7,695.2 2407.2,694.4 2407.0,694.3 2404.2,693.8 2401.3,695.3"/>
<polygon points="2428.8,695.2 2429.0,695.0 2437.4,695.0 2437.8,694.4 2437.2,693.1 2434.1,693.1 2429.6,694.1"/>
<polygon points="2506.3,696.6 2509.7,698.9 2509.3,700.6 2513.9,697.7 2518.4,696.0 2519.2,694.9 2514.6,694.7 2506.7,696.1"/>
<polygon points="2493.1,709.9 2495.2,710.3 2499.0,710.1 2498.1,709.7 2493.5,709.4"/>
<polygon points="2283.9,786.0 2284.3,786.3 2287.8,790.0 2292.6,793.5 2298.9,797.6 2298.3,801.6 2298.3,801.6 2300.0,801.2 2305.1,802.6 2306.8,802.3 2308.0,797.8 2314.5,796.8 2316.8,798.7 2318.0,796.6 2321.0,793.5 2322.2,791.1 2320.6,790.7 2318.4,792.2 2309.7,793.1 2303.9,791.1 2299.4,788.2 2294.8,788.7 2286.9,786.4"/>
<polygon points="2594.6,630.1 2595.6,632.6 2598.3,633.0 2599.2,632.5 2598.8,628.9 2597.1,627.8 2595.6,628.3"/>
<polygon points="2560.9,653.3 2562.7,653.1 2568.8,654.9 2575.4,652.6 2581.8,650.7 2589.0,648.9 2592.8,646.3 2587.3,646.0 2581.5,645.5 2579.2,643.6 2578.9,643.6 2576.5,647.3 2565.9,649.3 2561.1,652.2"/>
<polygon points="2473.0,650.2 2474.2,649.7 2474.9,649.0 2474.8,649.0 2473.4,649.6"/>
<polygon points="2506.6,698.6 2507.2,699.7 2508.3,699.9 2511.3,697.8 2516.3,695.9 2517.7,694.9 2512.9,695.3 2507.4,696.5"/>
<polygon points="2458.3,865.4 2459.2,868.8 2462.2,872.5 2466.3,869.7 2469.9,868.2 2470.1,867.4 2468.8,866.6 2464.9,864.7 2462.1,862.7 2459.7,863.4"/>
<polygon points="2461.6,875.7 2459.2,878.1 2456.6,880.2 2456.5,880.6 2457.5,881.7 2461.3,882.5 2465.7,882.1 2466.0,881.0 2465.5,880.3 2463.7,877.8"/>
<polygon points="2347.0,741.1 2348.5,744.7 2352.3,746.6 2357.4,748.5 2363.8,750.4 2368.0,749.1 2366.7,745.2 2370.2,742.8 2375.2,739.2 2381.3,737.9 2387.5,737.3 2394.9,737.9 2402.3,739.2 2404.6,742.6 2404.6,747.5 2405.8,752.7 2409.7,757.8 2414.8,761.0 2421.0,762.9 2424.8,765.3 2434.8,770.4 2442.5,773.5 2447.6,771.6 2453.9,769.2 2460.1,767.3 2468.8,766.0 2476.2,765.4 2483.8,766.6 2489.2,764.7 2488.5,759.7 2482.6,756.5 2475.1,755.2 2467.5,754.6 2457.6,755.8 2455.6,753.8 2459.1,750.3 2462.8,746.5 2466.6,742.7 2467.9,737.4 2465.3,732.8 2459.0,729.0 2441.3,724.0 2432.6,721.5 2425.2,719.6 2420.2,715.9 2415.1,713.4 2407.6,712.1 2400.0,711.5 2393.7,712.1 2387.5,713.4 2382.6,711.5 2376.0,712.1 2370.9,717.2 2367.2,722.2 2363.5,725.9 2359.7,730.9 2356.0,734.6 2351.0,735.8"/>
<polygon points="2348.2,759.8 2349.8,762.6 2355.0,762.3 2370.0,763.5 2377.6,762.9 2384.1,761.5 2385.4,756.1 2382.7,752.1 2374.9,752.1 2369.8,754.7 2366.0,758.4 2360.0,759.6 2352.5,758.4"/>
<polygon points="2379.3,707.3 2382.3,711.0 2388.9,711.0 2394.5,708.2 2391.4,705.2 2384.9,705.6"/>
<polygon points="2409.5,704.8 2410.9,709.0 2414.9,712.3 2421.3,712.3 2425.2,709.8 2431.5,707.8 2433.1,703.6 2422.5,703.4 2414.9,702.7"/>
<polygon points="2389.3,638.9 2395.0,641.6 2401.3,639.2 2407.6,636.6 2415.1,634.8 2422.6,632.9 2429.0,630.4 2432.8,627.8 2435.3,624.1 2441.4,621.5 2445.2,617.8 2450.3,615.3 2453.2,610.9 2447.5,610.2 2438.8,610.8 2429.9,611.5 2422.3,613.4 2414.8,618.5 2407.3,622.2 2400.9,628.5 2394.7,633.5"/>
<polygon points="2441.8,604.3 2444.9,607.6 2450.2,606.6 2452.5,602.8 2447.5,601.8"/>
<polygon points="2464.8,619.5 2468.7,622.3 2475.0,622.3 2482.6,621.6 2489.0,619.8 2494.0,616.6 2498.8,614.2 2502.7,615.5 2504.9,611.8 2501.3,609.0 2494.8,609.0 2489.7,614.1 2484.8,617.7 2478.7,619.0 2472.5,620.2"/>
<polygon points="2345.7,651.2 2348.8,654.4 2352.9,650.2 2354.4,644.4 2349.8,645.9"/>
<polygon points="2363.4,649.8 2362.1,653.9 2364.7,657.8 2368.5,661.5 2372.3,665.4 2377.5,666.6 2382.7,664.1 2387.7,660.4 2392.7,659.2 2395.2,655.4 2399.9,655.4 2407.3,659.2 2414.9,661.6 2421.4,662.9 2425.3,657.8 2430.3,654.1 2434.8,649.6 2430.0,649.6 2422.7,647.7 2417.6,644.6 2410.0,644.6 2402.4,645.8 2395.0,647.1 2387.6,644.6 2381.4,642.1 2376.2,639.6 2372.3,640.8 2367.2,644.7"/>
<polygon points="2461.8,618.3 2463.5,621.6 2471.1,622.9 2478.8,624.2 2485.2,623.5 2490.2,619.1 2495.1,616.6 2500.2,615.4 2504.5,611.1 2500.1,609.0 2494.8,609.0 2490.9,613.5 2486.0,617.2 2478.7,620.8 2470.1,619.6"/>
<polygon points="2510.4,623.6 2514.9,627.3 2522.5,626.6 2531.2,627.6 2540.0,627.3 2547.5,628.5 2552.8,626.5 2555.5,622.4 2551.4,618.4 2546.2,617.1 2538.7,618.4 2529.9,619.6 2519.9,620.8"/>
<polygon points="2502.0,622.4 2504.8,628.6 2510.5,626.4 2509.1,622.2 2504.9,619.5"/>
<polygon points="2449.6,620.3 2449.6,627.4 2454.1,626.6 2455.4,623.1 2453.3,619.6"/>
<polygon points="2433.0,787.7 2433.0,794.1 2436.9,799.1 2440.0,802.7 2439.2,808.1 2443.3,812.2 2447.9,814.6 2453.3,817.7 2456.3,819.9 2458.7,824.8 2465.3,825.5 2469.4,823.8 2470.3,819.6 2470.3,815.8 2474.6,815.4 2480.3,813.8 2482.6,808.9 2481.9,803.9 2478.6,800.6 2474.4,800.6 2469.7,803.7 2466.1,804.5 2461.7,801.6 2458.5,797.7 2454.7,792.9 2448.3,787.5 2443.6,786.4 2437.1,785.1"/>
<polygon points="2487.3,816.9 2491.2,818.9 2496.5,817.2 2497.4,814.0 2492.4,814.0"/>
<polygon points="2502.1,809.2 2507.0,810.2 2509.6,807.6 2506.1,806.8"/>
<polygon points="2450.0,836.0 2452.5,839.4 2455.6,842.5 2458.8,847.3 2462.3,848.1 2464.7,844.0 2468.4,840.2 2473.0,838.6 2477.5,839.5 2482.2,840.3 2487.2,838.6 2491.8,836.4 2498.5,832.5 2491.7,832.5 2487.3,829.5 2483.2,825.6 2477.7,823.1 2469.9,824.0 2463.5,824.7 2457.3,827.2 2452.5,831.1"/>
<polygon points="2333.0,780.9 2337.4,784.2 2343.9,783.7 2340.2,781.7 2336.2,779.6"/>
<polygon points="2334.3,788.6 2340.6,791.5 2346.1,790.3 2340.1,787.6"/>
<polygon points="2301.5,629.7 2301.5,635.1 2303.5,639.1 2310.0,641.0 2317.6,640.4 2325.3,637.8 2328.0,632.5 2325.3,627.8 2317.5,625.8 2309.9,627.1"/>
<polygon points="2332.6,631.0 2334.1,635.2 2340.0,636.0 2346.0,634.1 2345.4,629.7 2338.8,628.4"/>
<polygon points="2523.9,661.0 2525.4,664.3 2528.6,662.7 2527.1,659.7"/>
<polygon points="2457.0,675.5 2458.2,678.6 2462.1,677.9 2464.1,674.8 2459.9,673.0"/>
<polygon points="2469.5,650.6 2471.3,653.5 2475.6,651.8 2478.7,648.4 2475.0,646.4 2472.0,647.5"/>
<polygon points="2435.3,863.6 2432.8,868.7 2437.1,868.2 2438.7,866.2 2445.0,864.7 2442.3,863.0"/>
</g>
<g fill="#7a7a7a">
<polygon points="2249.0,630.2 2252.1,630.7 2256.4,629.5 2261.9,626.7 2268.8,624.3 2276.5,622.9 2281.2,621.7 2280.0,621.7 2270.7,622.1 2270.0,619.1 2266.4,620.5 2259.7,624.2 2254.2,621.9 2251.4,622.0 2250.1,624.2"/>
<polygon points="2334.5,608.4 2335.1,610.1 2335.2,610.5 2338.3,608.6 2342.5,607.8 2337.9,607.8"/>
<polygon points="2348.8,607.8 2351.3,608.6 2354.5,609.4 2356.7,608.3 2353.5,605.9 2351.5,605.9 2349.0,607.8"/>
<polygon points="2360.1,607.1 2364.6,608.2 2370.5,605.9 2376.8,606.3 2379.0,604.8 2376.6,605.3 2366.9,604.7"/>
<polygon points="2291.6,790.1 2293.8,791.7 2301.3,796.5 2300.9,799.2 2305.1,800.3 2306.2,795.8 2309.7,795.3 2309.4,795.3 2302.9,793.1 2298.9,790.5 2294.6,790.9"/>
<polygon points="2315.4,794.7 2316.2,795.3 2316.2,795.3 2316.9,794.6"/>
<polygon points="2566.0,651.8 2568.7,652.6 2574.7,650.5 2581.2,648.6 2583.9,647.9 2580.6,647.6 2579.5,646.7 2577.8,649.3 2566.7,651.4"/>
<polygon points="2460.7,865.8 2461.2,867.8 2462.6,869.5 2465.2,867.8 2465.7,867.6 2463.8,866.6 2461.7,865.1 2461.1,865.3"/>
<polygon points="2460.3,880.0 2461.4,880.3 2462.7,880.2 2462.0,879.2 2461.6,878.8 2460.7,879.7"/>
<polygon points="2349.5,741.4 2350.2,743.1 2353.2,744.6 2358.1,746.4 2363.8,748.1 2365.2,747.7 2364.1,744.3 2368.9,741.0 2374.3,737.1 2381.0,735.7 2387.5,735.1 2395.2,735.7 2403.6,737.2 2406.8,741.9 2406.8,747.2 2407.8,751.7 2411.2,756.1 2415.7,759.0 2421.9,760.9 2425.9,763.4 2435.7,768.4 2442.5,771.1 2446.8,769.5 2453.2,767.1 2459.6,765.1 2468.5,763.8 2476.3,763.2 2483.6,764.3 2486.8,763.2 2486.5,761.1 2481.9,758.6 2474.8,757.4 2467.5,756.8 2456.8,758.1 2452.5,753.8 2457.5,748.8 2461.2,745.0 2464.6,741.6 2465.6,737.7 2463.7,734.4 2458.1,731.0 2440.7,726.1 2432.0,723.6 2424.2,721.6 2419.1,717.8 2414.4,715.5 2407.3,714.3 2400.0,713.7 2394.0,714.3 2387.3,715.7 2382.3,713.7 2377.0,714.2 2372.6,718.6 2368.9,723.6 2365.2,727.4 2361.4,732.4 2357.1,736.6 2352.3,737.8"/>
<polygon points="2364.8,760.9 2370.0,761.3 2377.3,760.7 2382.3,759.6 2383.0,756.5 2381.5,754.3 2375.4,754.3 2371.1,756.5 2367.1,760.4"/>
<polygon points="2383.1,708.5 2383.3,708.8 2388.4,708.8 2390.7,707.6 2390.6,707.5 2385.3,707.8"/>
<polygon points="2412.2,706.1 2412.8,707.7 2415.7,710.1 2420.7,710.1 2424.3,707.8 2429.8,706.0 2429.9,705.7 2422.4,705.6 2415.2,704.9"/>
<polygon points="2393.1,638.2 2395.1,639.2 2400.5,637.2 2406.9,634.5 2414.6,632.7 2421.9,630.8 2428.0,628.4 2431.2,626.2 2433.8,622.3 2440.2,619.6 2443.9,616.0 2448.8,613.6 2449.4,612.7 2447.4,612.4 2439.0,613.0 2430.3,613.7 2423.2,615.4 2415.9,620.4 2408.6,624.0 2402.4,630.1 2396.2,635.1"/>
<polygon points="2445.5,605.1 2445.7,605.2 2448.8,604.6 2449.0,604.3 2447.7,604.1"/>
<polygon points="2490.6,616.1 2492.9,614.7 2498.6,611.8 2501.7,612.9 2502.0,612.3 2500.5,611.2 2495.7,611.2 2491.1,615.8"/>
<polygon points="2348.6,651.0 2348.8,651.2 2350.9,649.1 2351.3,647.7 2351.1,647.8"/>
<polygon points="2365.4,650.8 2364.5,653.6 2366.4,656.4 2370.1,659.9 2373.4,663.4 2377.2,664.3 2381.6,662.2 2386.8,658.4 2391.3,657.3 2394.0,653.2 2400.4,653.2 2408.1,657.2 2415.4,659.5 2420.5,660.5 2423.7,656.2 2428.9,652.4 2429.5,651.8 2421.8,649.7 2417.0,646.8 2410.2,646.8 2402.8,648.0 2394.8,649.4 2386.8,646.7 2380.5,644.1 2376.0,642.0 2373.3,642.8 2368.8,646.3"/>
<polygon points="2482.0,621.6 2484.3,621.4 2486.5,619.4"/>
<polygon points="2490.8,616.3 2494.3,614.5 2499.1,613.4 2500.7,611.7 2499.6,611.2 2495.8,611.2 2492.4,615.1"/>
<polygon points="2515.0,624.5 2515.6,625.0 2522.5,624.4 2531.3,625.4 2540.1,625.1 2547.3,626.2 2551.4,624.7 2552.7,622.7 2550.3,620.4 2546.1,619.3 2539.0,620.6 2530.2,621.8 2520.3,623.0"/>
<polygon points="2504.6,622.9 2505.9,625.8 2507.7,625.1 2507.3,623.6 2505.2,622.3"/>
<polygon points="2451.8,622.1 2451.8,624.8 2452.5,624.7 2453.0,623.3 2452.2,622.0"/>
<polygon points="2435.2,788.9 2435.2,793.3 2438.6,797.7 2442.3,802.0 2441.5,807.3 2444.6,810.4 2449.0,812.7 2454.5,815.9 2458.0,818.4 2460.1,822.7 2465.0,823.3 2467.5,822.2 2468.1,819.4 2468.1,813.8 2474.2,813.2 2478.7,812.0 2480.3,808.6 2479.8,804.9 2477.7,802.8 2475.1,802.8 2470.6,805.8 2465.7,806.8 2460.2,803.3 2456.8,799.1 2453.1,794.4 2447.3,789.5 2443.1,788.6 2437.5,787.4"/>
<polygon points="2452.6,835.8 2454.2,838.0 2457.3,841.1 2460.1,845.4 2461.2,845.6 2462.9,842.7 2467.2,838.3 2472.8,836.3 2477.9,837.3 2482.0,838.0 2486.4,836.6 2490.7,834.5 2485.9,831.2 2482.0,827.4 2477.3,825.4 2470.1,826.2 2464.0,826.9 2458.4,829.1 2454.2,832.5"/>
<polygon points="2303.7,631.3 2303.7,634.6 2305.0,637.3 2310.2,638.8 2317.2,638.2 2323.7,636.0 2325.5,632.6 2323.9,629.7 2317.4,628.0 2310.4,629.2"/>
<polygon points="2335.4,632.2 2335.7,633.2 2339.8,633.8 2343.6,632.6 2343.4,631.6 2339.0,630.7"/>
<polygon points="2472.2,650.8 2472.2,650.8 2474.3,649.9 2475.2,649.0 2474.8,648.8 2473.3,649.4"/>
</g>
<g fill="#666666">
<polygon points="2447.5,729.4 2457.5,730.0 2465.0,733.8 2466.9,738.8 2465.0,743.8 2460.0,747.5 2455.0,746.2 2450.0,741.2 2447.5,736.2"/>
</g>
<g fill="#454545">
<polygon points="2384.4,648.1 2390.0,646.9 2393.8,649.4 2392.5,653.8 2386.2,654.0"/>
</g>
<g fill="#2b2b2b">

</g>
<g fill="#000000">
<polygon points="2373.8,746.2 2378.1,745.2 2382.8,746.5 2381.9,748.5 2376.2,748.8"/>
<polygon points="2390.0,744.8 2393.5,744.0 2394.0,746.5 2391.0,747.2"/>
<polygon points="2388.8,753.1 2395.0,752.2 2402.5,753.1 2405.0,756.2 2408.8,760.0 2410.0,762.5 2405.0,762.5 2398.8,760.0 2393.8,757.5 2390.0,755.6"/>
<polygon points="2365.0,644.0 2370.6,643.1 2371.2,646.9 2366.2,647.8"/>
<polygon points="2472.5,843.1 2475.6,842.5 2476.2,845.6 2473.5,846.2"/>
<polygon points="2461.5,803.5 2466.9,801.0 2468.5,804.0 2463.5,806.5"/>
</g>
<g fill="#9e9e9e">
<polygon points="2371.2,756.2 2375.0,753.8 2381.2,753.5 2383.8,756.2 2381.9,759.8 2375.0,760.2"/>
<polygon points="2420.0,726.9 2430.0,725.6 2440.0,726.9 2446.2,730.0 2447.5,736.2 2445.0,741.2 2441.2,737.5 2433.8,736.2 2426.2,736.2 2422.5,733.8"/>
<polygon points="2443.8,745.0 2451.2,743.8 2454.4,750.0 2452.5,757.5 2446.2,760.0 2443.8,753.8"/>
<polygon points="2465.0,759.4 2471.2,756.9 2478.8,756.2 2484.4,758.8 2485.0,762.5 2478.8,764.4 2471.2,763.1 2466.2,761.9"/>
<polygon points="2470.0,832.5 2475.0,830.0 2481.2,830.0 2484.4,832.5 2480.0,835.6 2473.8,835.6"/>
<polygon points="2451.9,835.0 2455.0,831.2 2459.4,832.5 2458.8,837.5 2454.4,839.4"/>
<polygon points="2466.2,809.4 2472.5,808.5 2478.8,809.0 2477.5,812.2 2471.2,812.9 2466.9,812.2"/>
<polygon points="2525.0,621.2 2535.0,620.0 2545.0,619.4 2550.0,621.9 2547.5,625.6 2537.5,625.6 2527.5,624.4"/>
<polygon points="2458.8,867.5 2462.5,865.0 2466.2,866.9 2465.0,870.6 2460.6,871.2"/>
<polygon points="2457.5,880.0 2461.2,877.5 2465.0,879.4 2464.4,882.8 2459.4,883.1"/>
</g>
<g fill="#c7c7c7" stroke="#c7c7c7" stroke-width="1.6" stroke-linejoin="round">
<polygon points="2256.0,625.2 2259.4,622.8 2264.2,622.8 2263.8,626.0 2258.8,627.0"/>
<polygon points="2269.5,624.2 2275.0,622.8 2280.0,622.0 2286.5,620.8 2287.5,622.8 2281.5,624.5 2275.0,625.8 2270.2,626.2"/>
<polygon points="2319.8,616.5 2322.5,615.8 2323.5,617.2 2320.6,618.0"/>
<polygon points="2356.2,607.5 2361.2,605.0 2366.5,603.5 2367.5,605.8 2364.0,608.2 2358.5,609.0"/>
<polygon points="2368.8,607.5 2373.8,604.0 2380.2,602.0 2381.2,604.2 2377.2,606.8 2371.9,609.0"/>
<polygon points="2305.6,636.0 2310.0,632.8 2315.0,630.2 2319.4,629.5 2323.1,631.9 2321.9,635.2 2316.2,636.9 2311.2,638.8 2306.9,638.2"/>
<polygon points="2337.8,630.6 2340.0,630.2 2340.2,631.8 2338.1,632.0"/>
<polygon points="2423.8,614.4 2426.2,612.8 2429.4,614.4 2427.5,616.9 2424.8,616.5"/>
<polygon points="2416.2,620.6 2420.0,618.5 2421.2,619.8 2417.5,621.8"/>
<polygon points="2389.4,638.5 2391.0,638.1 2391.2,640.6 2389.8,640.8"/>
<polygon points="2349.4,650.6 2351.2,648.8 2352.8,649.8 2351.0,652.0"/>
<polygon points="2363.1,651.2 2366.2,650.2 2366.9,651.9 2363.8,652.5"/>
<polygon points="2368.1,652.5 2370.6,652.2 2371.2,655.0 2368.8,655.0"/>
<polygon points="2371.2,659.4 2375.0,655.0 2377.5,653.8 2377.5,656.2 2373.8,660.0"/>
<polygon points="2373.8,661.9 2380.0,660.0 2380.6,661.9 2375.0,663.1"/>
<polygon points="2403.1,656.9 2406.2,654.4 2412.5,653.1 2417.5,651.2 2422.5,651.9 2425.0,655.0 2422.5,658.8 2420.0,662.5 2415.0,663.1 2411.2,660.0 2406.2,659.4"/>
<polygon points="2430.6,644.0 2435.0,643.5 2435.0,645.0 2431.0,645.2"/>
<polygon points="2437.5,641.2 2441.2,640.8 2441.2,642.2 2437.8,642.5"/>
<polygon points="2471.0,650.6 2473.1,648.8 2474.0,650.2 2472.0,651.9"/>
<polygon points="2384.4,688.5 2388.8,687.2 2389.0,689.5 2385.0,690.2"/>
<polygon points="2393.1,685.0 2396.9,683.5 2397.8,686.2 2394.4,687.8"/>
<polygon points="2401.9,696.0 2406.0,695.5 2406.2,697.5 2402.5,697.8"/>
<polygon points="2427.5,693.5 2435.0,692.9 2435.0,694.8 2427.8,695.2"/>
<polygon points="2503.8,696.5 2506.0,696.0 2506.2,698.1 2504.1,698.2"/>
<polygon points="2507.5,700.2 2509.2,700.0 2509.4,701.9 2507.8,702.0"/>
<polygon points="2493.8,709.8 2497.5,709.4 2497.5,711.2 2494.0,711.5"/>
<polygon points="2569.4,649.4 2571.9,648.1 2573.8,650.0 2573.1,653.1 2570.0,652.8"/>
<polygon points="2470.6,650.0 2472.5,648.8 2473.1,651.2 2471.2,652.8"/>
<polygon points="2504.4,696.2 2506.9,695.6 2507.2,697.5 2505.0,698.0"/>
<polygon points="2507.2,700.0 2509.0,699.5 2509.2,701.2 2507.5,701.5"/>
<polygon points="2493.1,709.0 2496.9,708.8 2497.2,710.6 2493.8,711.0"/>
<polygon points="2485.0,704.4 2487.0,703.8 2487.2,705.2 2485.4,705.8"/>
<polygon points="2376.2,715.6 2380.0,713.8 2383.8,717.5 2387.5,720.6 2392.5,721.2 2396.2,718.8 2395.0,715.6 2400.0,715.0 2405.0,716.2 2410.0,717.5 2416.2,718.8 2418.8,722.5 2417.5,726.9 2420.0,730.0 2416.2,732.5 2412.5,735.0 2407.5,734.4 2402.5,736.2 2397.5,733.8 2392.5,734.4 2387.5,731.9 2382.5,731.2 2378.8,729.4 2373.8,730.0 2371.2,732.5 2372.5,736.2 2373.8,740.0 2370.0,741.9 2366.2,740.0 2366.2,735.0 2368.1,731.2 2365.0,733.8 2361.9,734.4 2360.6,731.9 2365.0,729.4 2370.0,726.9 2375.0,725.6 2381.2,725.0 2385.0,723.8 2382.5,720.6 2378.8,718.8"/>
<polygon points="2406.2,741.9 2410.0,738.8 2415.0,737.5 2412.5,741.2 2416.2,745.0 2421.2,743.1 2426.2,741.9 2430.0,738.8 2435.0,740.0 2438.8,738.8 2441.2,742.5 2438.8,746.2 2441.2,750.0 2445.0,752.5 2443.8,756.2 2440.0,757.5 2435.0,758.8 2430.0,760.0 2425.0,758.8 2420.0,758.1 2416.2,756.2 2417.5,752.5 2415.0,749.4 2411.2,746.2 2407.5,745.0"/>
<polygon points="2348.1,743.1 2352.5,740.0 2356.2,739.0 2357.5,741.2 2353.8,743.8 2350.0,744.8"/>
<polygon points="2358.1,743.1 2361.2,742.5 2363.1,745.6 2360.0,746.5"/>
<polygon points="2431.2,763.8 2435.0,763.1 2438.8,765.0 2442.5,765.0 2442.5,770.0 2438.8,770.6 2436.2,766.9 2432.5,766.0"/>
<polygon points="2471.9,760.2 2476.9,759.8 2477.0,761.2 2472.2,761.6"/>
<polygon points="2413.8,709.4 2417.5,706.2 2422.5,705.2 2428.1,705.6 2427.5,707.8 2421.2,708.8 2416.2,710.6"/>
<polygon points="2285.0,786.2 2290.0,786.9 2297.5,789.4 2303.8,791.2 2302.5,793.1 2296.2,792.2 2290.0,790.0 2285.6,788.1"/>
<polygon points="2440.6,793.8 2444.4,793.1 2447.5,795.6 2445.0,797.2 2441.9,796.0"/>
<polygon points="2452.5,807.5 2455.6,806.2 2458.1,808.8 2456.9,811.2 2453.8,810.6"/>
<polygon points="2458.8,819.4 2462.5,816.9 2466.9,818.8 2467.5,821.9 2463.8,823.1 2460.0,822.2"/>
<polygon points="2441.2,773.8 2442.8,773.5 2443.0,776.0 2441.5,776.2"/>
</g>
<g fill="#e0e0e0">
<polygon points="2258.9,625.1 2259.1,625.3 2262.4,624.7 2262.4,624.4 2259.9,624.4"/>
<polygon points="2360.6,607.1 2363.4,606.7 2365.0,605.6 2361.8,606.5"/>
<polygon points="2372.0,607.2 2376.5,605.4 2378.0,604.4 2374.5,605.5"/>
<polygon points="2307.7,636.4 2307.9,636.7 2311.0,637.2 2315.7,635.4 2320.7,633.9 2321.2,632.5 2319.0,631.2 2315.5,631.7 2310.8,634.2"/>
<polygon points="2405.6,656.9 2406.8,657.9 2411.9,658.5 2415.5,661.4 2419.1,661.0 2421.2,657.9 2423.0,655.1 2421.7,653.4 2417.7,652.8 2412.9,654.6 2406.9,655.9"/>
<polygon points="2571.2,650.3 2571.4,651.3 2571.9,651.4 2572.0,650.5 2571.6,650.1"/>
<polygon points="2366.5,730.4 2365.8,730.8 2362.7,732.5 2362.8,732.6 2364.3,732.3"/>
<polygon points="2371.4,728.2 2369.6,731.9 2373.1,728.5 2379.1,727.8 2383.0,729.7 2388.0,730.4 2392.8,732.8 2397.8,732.2 2402.6,734.5 2407.3,732.8 2412.1,733.3 2415.3,731.2 2417.6,729.6 2415.7,727.3 2417.0,722.8 2415.3,720.2 2409.6,719.1 2404.6,717.8 2399.9,716.6 2397.2,716.9 2398.1,719.4 2392.9,722.9 2386.8,722.1 2383.6,719.4 2387.7,724.6 2381.5,726.6 2375.3,727.2"/>
<polygon points="2383.4,719.3 2382.7,718.7 2379.7,715.7 2378.7,716.2 2379.8,717.5"/>
<polygon points="2369.4,732.2 2367.8,735.4 2367.8,739.0 2370.0,740.1 2371.8,739.2 2371.0,736.7"/>
<polygon points="2408.1,742.4 2408.7,743.7 2412.0,744.8 2416.1,748.3 2419.3,752.2 2418.2,755.4 2420.5,756.6 2425.3,757.2 2430.0,758.4 2434.6,757.2 2439.5,756.0 2442.5,754.9 2443.1,753.2 2440.0,751.1 2436.9,746.2 2439.3,742.5 2438.1,740.7 2435.1,741.7 2430.4,740.5 2426.9,743.4 2421.7,744.6 2415.8,746.9 2410.4,741.4 2411.3,740.1 2410.7,740.3"/>
<polygon points="2351.3,742.8 2353.1,742.3 2355.0,741.0 2353.2,741.5"/>
<polygon points="2437.7,766.2 2439.5,768.9 2440.9,768.6 2440.9,766.6 2438.4,766.6"/>
<polygon points="2417.3,708.5 2420.8,707.2 2423.2,706.9 2422.6,706.8 2418.2,707.7"/>
<polygon points="2454.6,808.4 2454.9,809.2 2456.0,809.4 2456.2,809.1 2455.2,808.1"/>
<polygon points="2460.8,820.0 2461.2,820.8 2463.7,821.4 2465.7,820.8 2465.5,819.9 2462.7,818.7"/>
<polygon points="2319.8,616.5 2322.5,615.8 2323.5,617.2 2320.6,618.0"/>
<polygon points="2337.8,630.6 2340.0,630.2 2340.2,631.8 2338.1,632.0"/>
<polygon points="2416.2,620.6 2420.0,618.5 2421.2,619.8 2417.5,621.8"/>
<polygon points="2389.4,638.5 2391.0,638.1 2391.2,640.6 2389.8,640.8"/>
<polygon points="2349.4,650.6 2351.2,648.8 2352.8,649.8 2351.0,652.0"/>
<polygon points="2363.1,651.2 2366.2,650.2 2366.9,651.9 2363.8,652.5"/>
<polygon points="2368.1,652.5 2370.6,652.2 2371.2,655.0 2368.8,655.0"/>
<polygon points="2373.8,661.9 2380.0,660.0 2380.6,661.9 2375.0,663.1"/>
<polygon points="2430.6,644.0 2435.0,643.5 2435.0,645.0 2431.0,645.2"/>
<polygon points="2437.5,641.2 2441.2,640.8 2441.2,642.2 2437.8,642.5"/>
<polygon points="2471.0,650.6 2473.1,648.8 2474.0,650.2 2472.0,651.9"/>
<polygon points="2384.4,688.5 2388.8,687.2 2389.0,689.5 2385.0,690.2"/>
<polygon points="2393.1,685.0 2396.9,683.5 2397.8,686.2 2394.4,687.8"/>
<polygon points="2401.9,696.0 2406.0,695.5 2406.2,697.5 2402.5,697.8"/>
<polygon points="2427.5,693.5 2435.0,692.9 2435.0,694.8 2427.8,695.2"/>
<polygon points="2503.8,696.5 2506.0,696.0 2506.2,698.1 2504.1,698.2"/>
<polygon points="2507.5,700.2 2509.2,700.0 2509.4,701.9 2507.8,702.0"/>
<polygon points="2493.8,709.8 2497.5,709.4 2497.5,711.2 2494.0,711.5"/>
<polygon points="2470.6,650.0 2472.5,648.8 2473.1,651.2 2471.2,652.8"/>
<polygon points="2504.4,696.2 2506.9,695.6 2507.2,697.5 2505.0,698.0"/>
<polygon points="2507.2,700.0 2509.0,699.5 2509.2,701.2 2507.5,701.5"/>
<polygon points="2493.1,709.0 2496.9,708.8 2497.2,710.6 2493.8,711.0"/>
<polygon points="2485.0,704.4 2487.0,703.8 2487.2,705.2 2485.4,705.8"/>
<polygon points="2358.1,743.1 2361.2,742.5 2363.1,745.6 2360.0,746.5"/>
<polygon points="2471.9,760.2 2476.9,759.8 2477.0,761.2 2472.2,761.6"/>
<polygon points="2441.2,773.8 2442.8,773.5 2443.0,776.0 2441.5,776.2"/>
<polygon points="2371.2,606.9 2375.0,604.8 2378.1,604.0 2377.5,605.6 2373.1,607.8"/>
</g>
<g fill="#fafafa">
<polygon points="2413.1,658.1 2416.2,655.0 2421.2,655.6 2420.0,659.4 2415.6,660.6"/>
<polygon points="2400.0,720.0 2405.0,718.1 2410.0,719.4 2408.8,721.9 2402.5,722.2"/>
<polygon points="2396.9,729.4 2401.2,726.9 2406.2,725.0 2412.5,726.2 2413.1,729.4 2407.5,730.0 2402.5,731.2 2398.1,731.9"/>
<polygon points="2367.2,735.2 2369.8,734.8 2370.2,738.1 2367.8,738.5"/>
<polygon points="2420.0,749.4 2425.0,746.9 2430.0,748.8 2433.8,751.2 2432.5,754.4 2427.5,755.0 2422.5,753.1"/>
<polygon points="2451.2,748.1 2453.8,747.2 2454.5,749.4 2452.0,750.2"/>
<polygon points="2429.4,693.5 2431.9,693.2 2432.0,694.5 2429.6,694.8"/>
</g>
</g>
</g>
<g shape-rendering="crispEdges">
<g fill="#4cc89a">
<polygon points="2446.9,948.1 2451.2,947.1 2453.8,947.2 2450.0,949.0"/>
<polygon points="2626.9,906.5 2629.4,903.8 2631.9,901.9 2630.6,905.0 2628.1,907.0"/>
<polygon points="2656,830 2659.5,823 2661,824 2658,831"/>
<polygon points="2661,842 2664,835 2667.5,836 2664,843.5"/>
<polygon points="2552,741 2554,736 2555.5,737 2553.5,742"/>
<polygon points="2413,576 2418,575.4 2418.5,577 2413.5,577.8"/>
</g>
<g fill="#4a6cba">
<polygon points="2660.5,841.5 2663,836.5 2665,837 2662.5,842.5"/>
<polygon points="2456.8,902.8 2461,901.8 2461.5,902.8 2457,904"/>
</g>
</g>
<g filter="url(#ft)" shape-rendering="crispEdges">
<g fill="#5c9ed0">
<polygon points="912.1,207.6 913.4,206.3 919.4,207.1 919.9,211.5 915.1,211.5 912.1,210.6"/>
<polygon points="956.1,213.2 963.4,213.2 972.0,214.5 979.8,215.2 987.5,216.2 992.7,218.3 992.7,219.6 987.5,220.5 991.0,224.0 996.6,225.2 996.6,227.0 989.2,227.8 984.1,229.6 980.6,230.8 970.3,230.4 961.2,230.8 959.1,227.4 964.3,226.5 964.3,224.0 959.1,223.5 956.1,221.4 959.9,219.6 956.5,217.9"/>
<polygon points="941.8,290.6 952,291 952,292.8 942,292.6"/>
</g>
<g fill="#58cfa2">
<polygon points="850.5,198.5 852.2,194.2 858.3,193.8 866.0,195.9 874.6,198.1 884.1,202.0 890.1,203.3 896.2,203.1 903.9,204.3 907.8,205.2 906.9,213.2 900.5,212.7 891.9,211.9 885.8,210.2 878.1,207.6 872.0,205.9 865.2,205.0 858.3,205.0 853.1,205.9 850.5,204.1 852.7,201.5"/>
<polygon points="830.3,225.2 833.3,218.3 835.4,214.5 840.2,213.2 846.2,209.3 850.5,205.9 858.3,205.0 861.7,207.6 856.5,210.2 853.1,212.7 853.5,217.1 854.0,220.5 849.6,222.2 848.8,226.5 847.1,232.1 841.9,231.3 835.9,228.7"/>
<polygon points="852.2,208.4 858.3,207.6 865.2,210.2 870.8,213.2 865.2,214.0 858.3,213.2 853.1,211.5"/>
<polygon points="854.8,214.5 861.7,214.5 872.0,216.2 879.8,220.5 870.3,219.2 863.4,218.3 856.5,216.2"/>
<polygon points="912.6,206.9 919.4,207.1 919.6,208.9 913.0,208.6"/>
<polygon points="935.0,211.5 938.4,209.3 942.7,211.5 947.9,212.7 953.1,213.2 952.2,214.5 944.4,213.6 939.3,212.7"/>
<polygon points="973.7,217.9 981.5,217.1 987.5,216.6 987.5,220.5 982.4,223.1 973.7,221.4"/>
<polygon points="964.3,224.8 970.3,224.0 970.3,227.4 964.3,228.3"/>
<polygon points="984.1,224.8 996.1,225.2 996.6,227.0 989.2,227.8 984.1,228.3"/>
<polygon points="989.2,263.4 994.4,262.3 1002.2,262.3 1007.3,261.4 1007.8,262.7 1003.0,263.8 997.9,264.9 991.8,264.9"/>
<polygon points="874.2,240.3 879.8,239.9 885.8,241.6 891.9,243.3 891.0,245.7 887.6,245.7 882.4,244.6 878.1,243.3 875.1,242.0"/>
</g>
<g fill="#5c9ed0">
<polygon points="858.3,200.3 865.2,199.4 875.5,201.5 884.1,203.7 887.6,205.9 878.9,205.9 870.3,204.1 861.7,203.3"/>
<polygon points="890.1,204.6 896.2,204.1 896.2,208.4 891.0,208.9"/>
<polygon points="847.9,214.5 853.1,213.6 853.1,217.9 848.8,219.6"/>
<polygon points="835.9,217.9 839.3,217.1 838.4,221.4 835.0,222.2"/>
</g>
<g fill="#4a6cba">
<polygon points="838.9,196.2 844.5,196.4 848.3,198.1 847.9,199.4 842.7,198.5"/>
<polygon points="842.3,204.6 847.9,205.0 849.6,206.3 845.3,205.9"/>
<polygon points="835.0,214.5 838.4,214.0 839.3,217.9 835.9,218.8"/>
<polygon points="853.1,215.3 858.3,214.9 861.7,217.9 856.5,218.3"/>
<polygon points="947.9,216.2 953.1,216.2 953.1,216.9 947.9,216.9"/>
<polygon points="956.5,214.0 963.4,213.8 972.0,214.9 972.0,216.0 963.4,215.5 956.5,215.3"/>
<polygon points="959.9,218.3 973.7,218.8 973.7,219.8 960.4,219.6"/>
<polygon points="959.5,222.2 965.1,222.1 970.3,222.7 970.3,223.8 959.9,223.4"/>
<polygon points="970.3,225.7 980.6,224.8 985.8,225.7 980.6,227.2 972.0,227.4"/>
</g>
<g fill="#14d038">
<polygon points="833.3,224.8 835.9,221.4 839.7,222.2 841.9,226.5 839.3,229.6 835.9,228.3"/>
<polygon points="851.8,194.7 858.3,194.2 865.2,196.4 861.7,200.3 856.5,199.4 853.1,197.2"/>
<polygon points="852.2,209.3 858.3,208.0 865.2,211.0 870.3,213.2 863.4,214.0 858.3,212.7 854.0,211.5"/>
<polygon points="842.7,214.5 847.9,212.7 848.8,216.2 844.5,217.9"/>
<polygon points="903.1,204.6 907.8,205.0 907.4,206.3 903.5,205.9"/>
<polygon points="913.4,206.3 917.7,206.1 918.2,207.1 913.8,207.4"/>
<polygon points="981.5,217.5 987.5,217.1 987.1,219.6 981.9,219.8"/>
<polygon points="994.4,262.3 999.6,262.0 999.6,263.0 994.9,263.2"/>
<polygon points="879.8,240.8 885.0,242.0 887.6,243.8 884.1,244.6 880.2,242.7"/>
</g>
<g fill="#089018">
<polygon points="835.9,224.4 838.4,223.5 840.2,225.7 837.6,227.0"/>
<polygon points="853.1,210.2 856.5,209.7 858.3,211.5 854.8,211.9"/>
</g>
<g fill="#fff">
<polygon points="891.0,209.7 897.0,209.6 897.0,210.9 891.4,211.0"/>
<polygon points="899.6,207.6 903.9,207.6 903.9,208.9 899.6,208.9"/>
<polygon points="847.9,201.5 850.5,200.7 850.9,205.0 848.3,205.9"/>
<polygon points="964.3,216.6 973.7,216.9 973.7,217.9 964.7,217.7"/>
<polygon points="965.1,220.5 972.0,220.5 972.0,221.5 965.5,221.5"/>
<polygon points="966.8,228.3 971.2,227.9 971.3,228.9 967.0,229.1"/>
</g>
</g>
</svg>
</body>
</html>
